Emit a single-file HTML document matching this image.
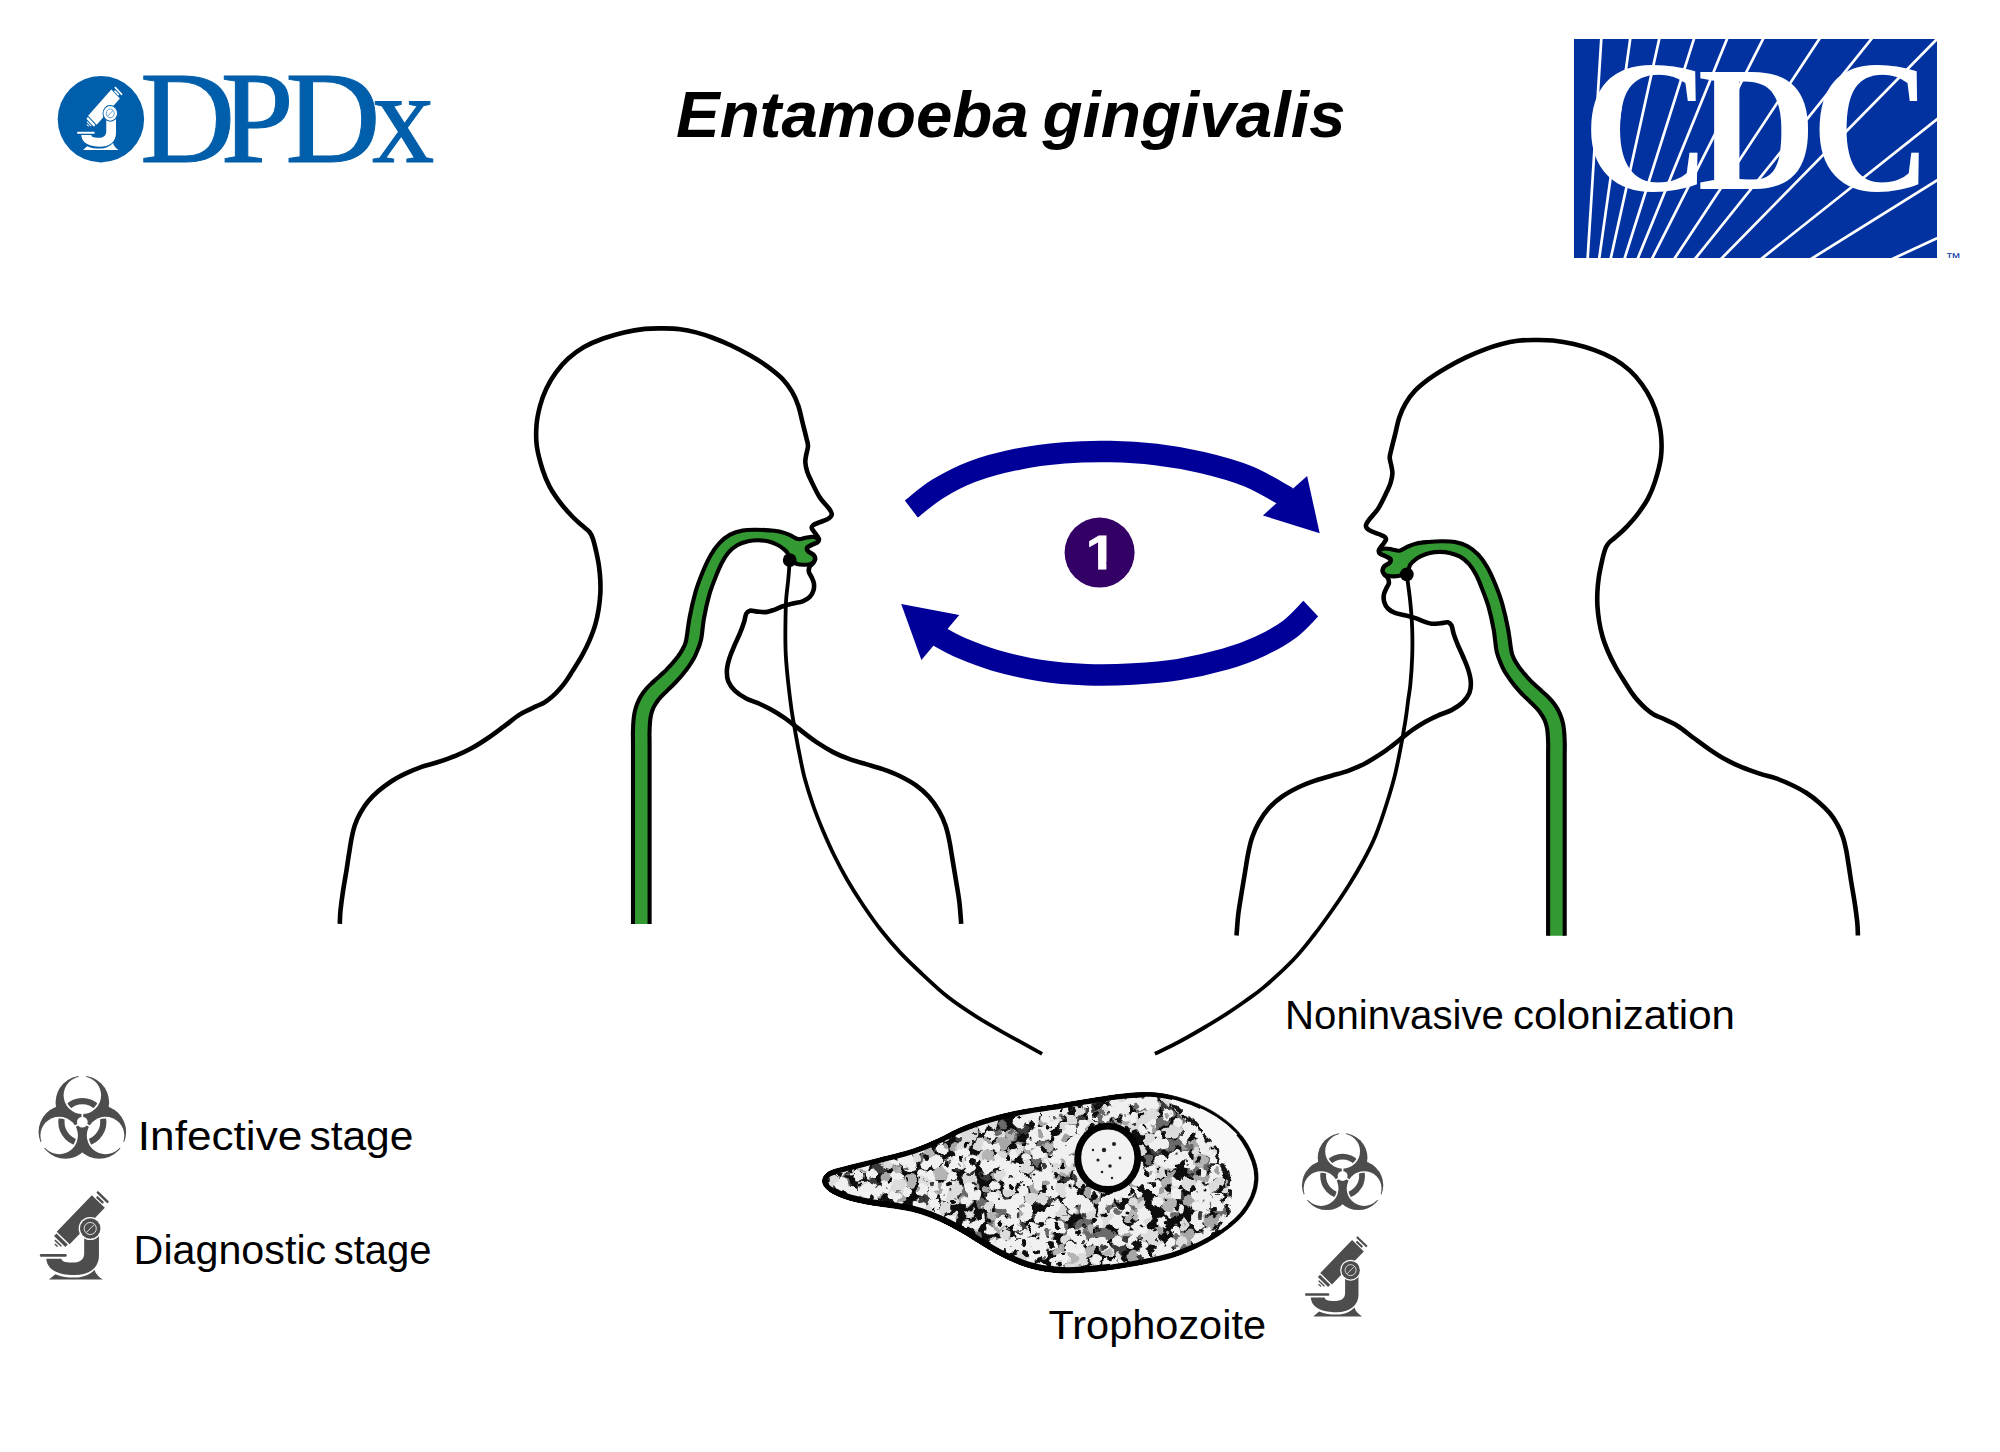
<!DOCTYPE html>
<html lang="en"><head><meta charset="utf-8"><title>Entamoeba gingivalis life cycle</title>
<style>html,body{margin:0;padding:0;background:#fff}body{width:2000px;height:1452px;overflow:hidden}svg{display:block}</style>
</head><body>
<svg width="2000" height="1452" viewBox="0 0 2000 1452">
<g id="figL"><path d="M633.0 924.1C633.0 917.1 633.0 898.0 633.0 882.4C633.0 866.7 633.0 846.6 633.0 830.0C633.0 813.4 633.0 796.7 633.0 782.5C633.0 768.3 633.0 753.2 633.0 745.0C633.0 736.8 632.9 735.9 632.9 733.5C632.9 731.1 632.9 732.3 633.0 730.5C633.1 728.7 633.1 725.4 633.3 722.9C633.5 720.3 633.7 717.6 634.1 715.1C634.5 712.6 635.0 710.3 635.7 708.0C636.4 705.7 637.2 703.5 638.2 701.4C639.1 699.2 640.3 697.0 641.7 694.9C643.0 692.9 644.5 690.9 646.1 689.0C647.7 687.1 649.6 685.3 651.3 683.6C653.1 681.9 654.9 680.4 656.6 678.8C658.3 677.3 659.9 675.8 661.5 674.4C663.1 672.9 664.7 671.6 666.2 670.1C667.7 668.6 669.1 667.0 670.5 665.5C671.9 663.9 673.3 662.2 674.6 660.7C675.8 659.2 676.9 657.8 678.0 656.4C679.0 654.9 679.9 653.7 680.9 652.1C681.9 650.5 683.0 648.7 683.9 646.7C684.8 644.6 685.2 644.9 686.2 640.0C687.2 635.1 688.1 625.4 689.6 617.5C691.1 609.6 693.3 599.9 695.4 592.4C697.5 584.9 699.9 578.8 702.4 572.7C704.9 566.6 707.6 560.6 710.4 555.7C713.2 550.8 716.1 546.6 719.4 543.1C722.7 539.6 726.2 536.7 730.1 534.6C734.0 532.5 738.4 531.2 742.7 530.4C747.0 529.6 751.6 529.7 756.1 529.7C760.6 529.7 765.3 530.0 769.5 530.4C773.7 530.8 777.8 531.1 781.2 531.9C784.6 532.7 787.3 533.9 790.1 535.1C792.9 536.3 795.7 538.7 798.2 539.1C800.8 539.5 803.0 538.2 805.4 537.8C807.8 537.4 810.3 536.8 812.5 536.9C814.7 537.0 817.8 538.4 818.8 538.7C818.6 539.3 818.7 541.2 817.5 542.2C816.3 543.2 813.3 544.0 811.6 544.9C809.9 545.8 807.8 546.5 807.2 547.6C806.6 548.7 807.1 550.0 808.1 551.2C809.1 552.4 812.2 553.5 813.4 554.8C814.6 556.1 815.2 557.5 815.2 558.8C815.2 560.1 813.7 562.1 813.4 562.8C812.8 563.0 811.4 563.9 809.8 564.2C808.2 564.5 805.8 564.9 803.6 564.8C801.4 564.7 798.7 564.5 796.4 563.7C794.1 562.9 790.8 560.7 789.7 560.1C789.3 558.9 788.6 554.9 787.5 553.0C786.4 551.1 784.8 549.9 783.0 548.5C781.2 547.1 779.2 545.7 776.7 544.5C774.2 543.3 770.9 542.0 767.8 541.3C764.7 540.6 761.2 540.3 757.9 540.3C754.6 540.3 751.5 540.5 748.1 541.3C744.7 542.1 740.8 543.2 737.6 545.0C734.4 546.8 731.5 549.2 728.8 552.2C726.1 555.2 723.8 559.0 721.6 563.2C719.4 567.4 717.7 571.9 715.6 577.2C713.5 582.5 711.1 588.4 709.2 595.1C707.3 601.8 705.5 610.0 704.1 617.5C702.7 625.0 702.3 634.1 701.0 640.0C699.7 645.9 697.7 649.7 696.4 652.9C695.2 656.2 694.4 657.3 693.3 659.3C692.2 661.3 691.1 662.9 689.9 664.7C688.8 666.5 687.6 668.1 686.2 669.9C684.9 671.6 683.5 673.5 682.0 675.3C680.5 677.1 678.8 679.0 677.2 680.7C675.6 682.5 673.9 684.1 672.3 685.7C670.6 687.3 669.0 688.8 667.4 690.4C665.8 691.9 664.1 693.5 662.7 695.0C661.2 696.5 659.8 697.9 658.7 699.4C657.5 700.9 656.6 702.3 655.7 703.8C654.8 705.3 653.9 706.8 653.2 708.2C652.6 709.7 652.1 711.1 651.6 712.7C651.2 714.3 650.8 715.8 650.5 717.7C650.2 719.6 650.0 721.8 649.9 724.0C649.7 726.2 649.6 729.5 649.6 731.1C649.5 732.7 649.5 731.2 649.5 733.5C649.5 735.8 649.6 736.8 649.6 745.0C649.6 753.2 649.6 768.3 649.6 782.5C649.6 796.7 649.6 813.4 649.6 830.0C649.6 846.6 649.6 866.7 649.6 882.4C649.6 898.0 649.6 917.1 649.6 924.1" fill="#339933" stroke="none"/><path d="M633.0 924.1C633.0 917.1 633.0 898.0 633.0 882.4C633.0 866.7 633.0 846.6 633.0 830.0C633.0 813.4 633.0 796.7 633.0 782.5C633.0 768.3 633.0 753.2 633.0 745.0C633.0 736.8 632.9 735.9 632.9 733.5C632.9 731.1 632.9 732.3 633.0 730.5C633.1 728.7 633.1 725.4 633.3 722.9C633.5 720.3 633.7 717.6 634.1 715.1C634.5 712.6 635.0 710.3 635.7 708.0C636.4 705.7 637.2 703.5 638.2 701.4C639.1 699.2 640.3 697.0 641.7 694.9C643.0 692.9 644.5 690.9 646.1 689.0C647.7 687.1 649.6 685.3 651.3 683.6C653.1 681.9 654.9 680.4 656.6 678.8C658.3 677.3 659.9 675.8 661.5 674.4C663.1 672.9 664.7 671.6 666.2 670.1C667.7 668.6 669.1 667.0 670.5 665.5C671.9 663.9 673.3 662.2 674.6 660.7C675.8 659.2 676.9 657.8 678.0 656.4C679.0 654.9 679.9 653.7 680.9 652.1C681.9 650.5 683.0 648.7 683.9 646.7C684.8 644.6 685.2 644.9 686.2 640.0C687.2 635.1 688.1 625.4 689.6 617.5C691.1 609.6 693.3 599.9 695.4 592.4C697.5 584.9 699.9 578.8 702.4 572.7C704.9 566.6 707.6 560.6 710.4 555.7C713.2 550.8 716.1 546.6 719.4 543.1C722.7 539.6 726.2 536.7 730.1 534.6C734.0 532.5 738.4 531.2 742.7 530.4C747.0 529.6 751.6 529.7 756.1 529.7C760.6 529.7 765.3 530.0 769.5 530.4C773.7 530.8 777.8 531.1 781.2 531.9C784.6 532.7 787.3 533.9 790.1 535.1C792.9 536.3 795.7 538.7 798.2 539.1C800.8 539.5 803.0 538.2 805.4 537.8C807.8 537.4 810.3 536.8 812.5 536.9C814.7 537.0 817.8 538.4 818.8 538.7" fill="none" stroke="#000" stroke-width="4.1" stroke-linejoin="round"/><path d="M813.4 562.8C812.8 563.0 811.4 563.9 809.8 564.2C808.2 564.5 805.8 564.9 803.6 564.8C801.4 564.7 798.7 564.5 796.4 563.7C794.1 562.9 790.8 560.7 789.7 560.1C789.3 558.9 788.6 554.9 787.5 553.0C786.4 551.1 784.8 549.9 783.0 548.5C781.2 547.1 779.2 545.7 776.7 544.5C774.2 543.3 770.9 542.0 767.8 541.3C764.7 540.6 761.2 540.3 757.9 540.3C754.6 540.3 751.5 540.5 748.1 541.3C744.7 542.1 740.8 543.2 737.6 545.0C734.4 546.8 731.5 549.2 728.8 552.2C726.1 555.2 723.8 559.0 721.6 563.2C719.4 567.4 717.7 571.9 715.6 577.2C713.5 582.5 711.1 588.4 709.2 595.1C707.3 601.8 705.5 610.0 704.1 617.5C702.7 625.0 702.3 634.1 701.0 640.0C699.7 645.9 697.7 649.7 696.4 652.9C695.2 656.2 694.4 657.3 693.3 659.3C692.2 661.3 691.1 662.9 689.9 664.7C688.8 666.5 687.6 668.1 686.2 669.9C684.9 671.6 683.5 673.5 682.0 675.3C680.5 677.1 678.8 679.0 677.2 680.7C675.6 682.5 673.9 684.1 672.3 685.7C670.6 687.3 669.0 688.8 667.4 690.4C665.8 691.9 664.1 693.5 662.7 695.0C661.2 696.5 659.8 697.9 658.7 699.4C657.5 700.9 656.6 702.3 655.7 703.8C654.8 705.3 653.9 706.8 653.2 708.2C652.6 709.7 652.1 711.1 651.6 712.7C651.2 714.3 650.8 715.8 650.5 717.7C650.2 719.6 650.0 721.8 649.9 724.0C649.7 726.2 649.6 729.5 649.6 731.1C649.5 732.7 649.5 731.2 649.5 733.5C649.5 735.8 649.6 736.8 649.6 745.0C649.6 753.2 649.6 768.3 649.6 782.5C649.6 796.7 649.6 813.4 649.6 830.0C649.6 846.6 649.6 866.7 649.6 882.4C649.6 898.0 649.6 917.1 649.6 924.1" fill="none" stroke="#000" stroke-width="4.1" stroke-linejoin="round"/><path d="M339.8 923.9C339.9 921.6 339.9 915.8 340.5 910.2C341.1 904.7 342.1 897.2 343.1 890.6C344.1 884.0 345.4 877.0 346.4 870.9C347.4 864.8 348.1 859.3 349.0 853.9C349.9 848.5 350.6 843.0 351.6 838.2C352.6 833.4 353.5 829.2 354.9 825.1C356.3 821.0 357.9 817.2 360.1 813.3C362.3 809.4 364.9 805.2 368.0 801.5C371.1 797.8 374.5 794.5 378.4 791.1C382.3 787.7 386.9 784.2 391.5 781.2C396.1 778.2 400.9 775.8 405.9 773.4C410.9 771.0 416.4 768.6 421.6 766.8C426.9 764.9 431.7 764.2 437.4 762.3C443.1 760.4 450.2 758.0 456.0 755.6C461.8 753.2 466.7 750.9 472.0 748.0C477.3 745.1 482.7 741.6 488.0 738.0C493.3 734.4 498.7 730.3 504.0 726.4C509.3 722.5 514.7 717.7 520.0 714.4C525.3 711.1 532.0 708.3 536.0 706.4C540.0 704.5 541.3 704.4 544.0 702.8C546.7 701.2 549.3 699.1 552.0 696.8C554.7 694.5 557.5 691.6 560.0 688.8C562.5 686.0 564.8 682.9 566.8 680.0C568.8 677.1 569.8 675.4 572.3 671.4C574.8 667.4 578.9 661.1 581.8 655.9C584.7 650.7 587.3 645.6 589.5 640.4C591.7 635.2 593.7 630.1 595.2 624.9C596.7 619.7 597.8 614.6 598.6 609.4C599.5 604.2 600.0 598.8 600.3 593.9C600.6 589.0 600.5 584.8 600.3 580.2C600.1 575.6 599.6 571.0 599.0 566.4C598.4 561.8 597.4 557.2 596.4 552.6C595.4 548.0 594.0 542.2 592.9 538.8C591.8 535.4 591.2 534.1 589.5 532.0C587.8 529.9 585.5 528.5 582.6 525.9C579.7 523.3 576.0 520.4 572.3 516.5C568.6 512.6 563.9 507.6 560.2 502.7C556.5 497.8 552.8 492.6 549.9 487.2C547.0 481.8 544.9 476.9 542.7 470.0C540.5 463.1 537.8 453.5 536.8 446.0C535.8 438.5 536.0 431.9 536.5 425.2C537.0 418.5 538.4 412.1 540.0 406.0C541.6 399.9 543.7 394.0 546.4 388.4C549.1 382.8 552.4 377.3 556.0 372.4C559.6 367.5 563.3 363.0 568.0 358.8C572.7 354.6 578.1 350.5 584.0 347.1C589.9 343.7 596.5 340.9 603.2 338.5C609.9 336.1 617.1 334.0 624.0 332.4C630.9 330.8 638.1 329.6 644.8 328.9C651.5 328.2 658.1 328.3 664.0 328.4C669.9 328.4 674.7 328.5 680.0 329.2C685.3 329.9 690.7 331.0 696.0 332.4C701.3 333.8 706.1 335.3 712.0 337.5C717.9 339.7 724.8 342.5 731.2 345.5C737.6 348.5 744.3 352.1 750.4 355.6C756.5 359.2 762.7 362.9 768.0 366.8C773.3 370.7 778.4 374.7 782.4 378.8C786.4 382.9 789.3 387.1 792.0 391.6C794.7 396.1 796.7 400.9 798.4 406.0C800.1 411.1 801.1 416.7 802.4 422.0C803.7 427.3 805.5 434.0 806.4 438.0C807.3 442.0 808.0 443.3 808.0 446.0C808.0 448.7 806.9 451.3 806.4 454.0C805.9 456.7 805.2 459.1 805.3 462.0C805.4 464.9 806.3 468.6 807.2 471.6C808.1 474.6 808.8 475.9 810.8 480.0C812.8 484.1 816.2 491.7 819.2 496.5C822.2 501.3 827.0 505.8 829.1 508.7C831.2 511.6 831.9 512.6 831.8 514.2C831.7 515.9 830.6 517.2 828.5 518.6C826.4 520.0 821.8 521.3 819.2 522.4C816.6 523.5 814.3 524.2 813.1 525.2C811.9 526.2 811.4 526.9 811.8 528.2C812.1 529.6 814.0 531.5 815.2 533.3C816.4 535.0 818.4 537.2 818.8 538.7C819.2 540.2 818.7 541.2 817.5 542.2C816.3 543.2 813.3 544.0 811.6 544.9C809.9 545.8 807.8 546.5 807.2 547.6C806.6 548.7 807.1 550.0 808.1 551.2C809.1 552.4 812.2 553.5 813.4 554.8C814.6 556.1 815.2 557.5 815.2 558.8C815.2 560.1 814.3 561.5 813.4 562.8C812.5 564.1 810.5 564.9 809.8 566.4C809.0 567.9 808.6 570.0 808.9 571.8C809.2 573.6 810.8 575.3 811.6 577.2C812.4 579.1 813.6 581.2 813.9 583.4C814.2 585.6 814.1 588.4 813.4 590.6C812.7 592.9 811.6 595.1 809.8 596.9C808.0 598.7 805.5 600.2 802.7 601.3C799.9 602.4 796.1 602.8 792.8 603.6C789.5 604.4 786.1 605.3 783.0 606.3C779.9 607.3 776.8 608.8 774.0 609.8C771.2 610.8 768.8 611.8 766.0 612.1C763.2 612.4 759.7 611.8 757.0 611.6C754.3 611.4 751.7 610.3 749.9 610.7C748.1 611.1 747.2 611.9 746.2 613.8C745.2 615.7 745.1 618.8 744.1 622.0C743.1 625.2 741.6 629.2 740.0 633.1C738.4 637.0 736.2 641.3 734.5 645.4C732.8 649.5 730.9 653.7 729.6 657.8C728.3 661.9 727.1 666.3 726.9 670.2C726.7 674.1 726.9 677.8 728.3 681.3C729.7 684.8 732.1 688.0 735.1 690.9C738.1 693.8 742.1 696.3 746.2 698.5C750.3 700.7 755.5 702.0 759.9 704.0C764.2 706.0 768.4 708.0 772.3 710.2C776.2 712.4 779.7 714.6 783.4 717.1C787.1 719.6 790.8 722.5 794.4 725.3C798.0 728.1 801.3 730.9 805.0 733.7C808.7 736.5 811.8 739.0 816.5 742.1C821.2 745.2 827.6 749.2 833.1 752.1C838.6 755.0 844.1 757.2 849.6 759.2C855.1 761.2 860.6 762.5 866.1 764.1C871.6 765.8 877.1 767.2 882.6 769.1C888.1 771.0 893.7 773.0 899.2 775.7C904.7 778.4 910.8 781.6 915.7 785.1C920.7 788.6 925.0 792.4 928.9 796.7C932.8 801.0 936.0 805.9 938.8 810.7C941.6 815.5 943.7 820.4 945.5 825.6C947.3 830.8 948.4 836.0 949.6 842.1C950.8 848.2 951.8 855.4 952.9 862.0C954.0 868.6 955.1 874.9 956.2 881.8C957.3 888.7 958.7 896.3 959.5 903.3C960.3 910.3 960.9 920.5 961.2 923.9" fill="none" stroke="#000" stroke-width="4.6" stroke-linejoin="round" stroke-linecap="butt"/><circle cx="789.7" cy="560.1" r="6.9" fill="#000"/></g>
<g transform="translate(2197.7,11.6) scale(-1,1)"><path d="M633.0 924.1C633.0 917.1 633.0 898.0 633.0 882.4C633.0 866.7 633.0 846.6 633.0 830.0C633.0 813.4 633.0 796.7 633.0 782.5C633.0 768.3 633.0 753.2 633.0 745.0C633.0 736.8 632.9 735.9 632.9 733.5C632.9 731.1 632.9 732.3 633.0 730.5C633.1 728.7 633.1 725.4 633.3 722.9C633.5 720.3 633.7 717.6 634.1 715.1C634.5 712.6 635.0 710.3 635.7 708.0C636.4 705.7 637.2 703.5 638.2 701.4C639.1 699.2 640.3 697.0 641.7 694.9C643.0 692.9 644.5 690.9 646.1 689.0C647.7 687.1 649.6 685.3 651.3 683.6C653.1 681.9 654.9 680.4 656.6 678.8C658.3 677.3 659.9 675.8 661.5 674.4C663.1 672.9 664.7 671.6 666.2 670.1C667.7 668.6 669.1 667.0 670.5 665.5C671.9 663.9 673.3 662.2 674.6 660.7C675.8 659.2 676.9 657.8 678.0 656.4C679.0 654.9 679.9 653.7 680.9 652.1C681.9 650.5 683.0 648.7 683.9 646.7C684.8 644.6 685.2 644.9 686.2 640.0C687.2 635.1 688.1 625.4 689.6 617.5C691.1 609.6 693.3 599.9 695.4 592.4C697.5 584.9 699.9 578.8 702.4 572.7C704.9 566.6 707.6 560.6 710.4 555.7C713.2 550.8 716.1 546.6 719.4 543.1C722.7 539.6 726.2 536.7 730.1 534.6C734.0 532.5 738.4 531.2 742.7 530.4C747.0 529.6 751.6 529.7 756.1 529.7C760.6 529.7 765.3 530.0 769.5 530.4C773.7 530.8 777.8 531.1 781.2 531.9C784.6 532.7 787.3 533.9 790.1 535.1C792.9 536.3 795.7 538.7 798.2 539.1C800.8 539.5 803.0 538.2 805.4 537.8C807.8 537.4 810.3 536.8 812.5 536.9C814.7 537.0 817.8 538.4 818.8 538.7C818.6 539.3 818.7 541.2 817.5 542.2C816.3 543.2 813.3 544.0 811.6 544.9C809.9 545.8 807.8 546.5 807.2 547.6C806.6 548.7 807.1 550.0 808.1 551.2C809.1 552.4 812.2 553.5 813.4 554.8C814.6 556.1 815.2 557.5 815.2 558.8C815.2 560.1 813.7 562.1 813.4 562.8C812.8 563.0 811.4 563.9 809.8 564.2C808.2 564.5 805.8 564.9 803.6 564.8C801.4 564.7 798.7 564.5 796.4 563.7C794.1 562.9 790.8 560.7 789.7 560.1C789.3 558.9 788.6 554.9 787.5 553.0C786.4 551.1 784.8 549.9 783.0 548.5C781.2 547.1 779.2 545.7 776.7 544.5C774.2 543.3 770.9 542.0 767.8 541.3C764.7 540.6 761.2 540.3 757.9 540.3C754.6 540.3 751.5 540.5 748.1 541.3C744.7 542.1 740.8 543.2 737.6 545.0C734.4 546.8 731.5 549.2 728.8 552.2C726.1 555.2 723.8 559.0 721.6 563.2C719.4 567.4 717.7 571.9 715.6 577.2C713.5 582.5 711.1 588.4 709.2 595.1C707.3 601.8 705.5 610.0 704.1 617.5C702.7 625.0 702.3 634.1 701.0 640.0C699.7 645.9 697.7 649.7 696.4 652.9C695.2 656.2 694.4 657.3 693.3 659.3C692.2 661.3 691.1 662.9 689.9 664.7C688.8 666.5 687.6 668.1 686.2 669.9C684.9 671.6 683.5 673.5 682.0 675.3C680.5 677.1 678.8 679.0 677.2 680.7C675.6 682.5 673.9 684.1 672.3 685.7C670.6 687.3 669.0 688.8 667.4 690.4C665.8 691.9 664.1 693.5 662.7 695.0C661.2 696.5 659.8 697.9 658.7 699.4C657.5 700.9 656.6 702.3 655.7 703.8C654.8 705.3 653.9 706.8 653.2 708.2C652.6 709.7 652.1 711.1 651.6 712.7C651.2 714.3 650.8 715.8 650.5 717.7C650.2 719.6 650.0 721.8 649.9 724.0C649.7 726.2 649.6 729.5 649.6 731.1C649.5 732.7 649.5 731.2 649.5 733.5C649.5 735.8 649.6 736.8 649.6 745.0C649.6 753.2 649.6 768.3 649.6 782.5C649.6 796.7 649.6 813.4 649.6 830.0C649.6 846.6 649.6 866.7 649.6 882.4C649.6 898.0 649.6 917.1 649.6 924.1" fill="#339933" stroke="none"/><path d="M633.0 924.1C633.0 917.1 633.0 898.0 633.0 882.4C633.0 866.7 633.0 846.6 633.0 830.0C633.0 813.4 633.0 796.7 633.0 782.5C633.0 768.3 633.0 753.2 633.0 745.0C633.0 736.8 632.9 735.9 632.9 733.5C632.9 731.1 632.9 732.3 633.0 730.5C633.1 728.7 633.1 725.4 633.3 722.9C633.5 720.3 633.7 717.6 634.1 715.1C634.5 712.6 635.0 710.3 635.7 708.0C636.4 705.7 637.2 703.5 638.2 701.4C639.1 699.2 640.3 697.0 641.7 694.9C643.0 692.9 644.5 690.9 646.1 689.0C647.7 687.1 649.6 685.3 651.3 683.6C653.1 681.9 654.9 680.4 656.6 678.8C658.3 677.3 659.9 675.8 661.5 674.4C663.1 672.9 664.7 671.6 666.2 670.1C667.7 668.6 669.1 667.0 670.5 665.5C671.9 663.9 673.3 662.2 674.6 660.7C675.8 659.2 676.9 657.8 678.0 656.4C679.0 654.9 679.9 653.7 680.9 652.1C681.9 650.5 683.0 648.7 683.9 646.7C684.8 644.6 685.2 644.9 686.2 640.0C687.2 635.1 688.1 625.4 689.6 617.5C691.1 609.6 693.3 599.9 695.4 592.4C697.5 584.9 699.9 578.8 702.4 572.7C704.9 566.6 707.6 560.6 710.4 555.7C713.2 550.8 716.1 546.6 719.4 543.1C722.7 539.6 726.2 536.7 730.1 534.6C734.0 532.5 738.4 531.2 742.7 530.4C747.0 529.6 751.6 529.7 756.1 529.7C760.6 529.7 765.3 530.0 769.5 530.4C773.7 530.8 777.8 531.1 781.2 531.9C784.6 532.7 787.3 533.9 790.1 535.1C792.9 536.3 795.7 538.7 798.2 539.1C800.8 539.5 803.0 538.2 805.4 537.8C807.8 537.4 810.3 536.8 812.5 536.9C814.7 537.0 817.8 538.4 818.8 538.7" fill="none" stroke="#000" stroke-width="4.1" stroke-linejoin="round"/><path d="M813.4 562.8C812.8 563.0 811.4 563.9 809.8 564.2C808.2 564.5 805.8 564.9 803.6 564.8C801.4 564.7 798.7 564.5 796.4 563.7C794.1 562.9 790.8 560.7 789.7 560.1C789.3 558.9 788.6 554.9 787.5 553.0C786.4 551.1 784.8 549.9 783.0 548.5C781.2 547.1 779.2 545.7 776.7 544.5C774.2 543.3 770.9 542.0 767.8 541.3C764.7 540.6 761.2 540.3 757.9 540.3C754.6 540.3 751.5 540.5 748.1 541.3C744.7 542.1 740.8 543.2 737.6 545.0C734.4 546.8 731.5 549.2 728.8 552.2C726.1 555.2 723.8 559.0 721.6 563.2C719.4 567.4 717.7 571.9 715.6 577.2C713.5 582.5 711.1 588.4 709.2 595.1C707.3 601.8 705.5 610.0 704.1 617.5C702.7 625.0 702.3 634.1 701.0 640.0C699.7 645.9 697.7 649.7 696.4 652.9C695.2 656.2 694.4 657.3 693.3 659.3C692.2 661.3 691.1 662.9 689.9 664.7C688.8 666.5 687.6 668.1 686.2 669.9C684.9 671.6 683.5 673.5 682.0 675.3C680.5 677.1 678.8 679.0 677.2 680.7C675.6 682.5 673.9 684.1 672.3 685.7C670.6 687.3 669.0 688.8 667.4 690.4C665.8 691.9 664.1 693.5 662.7 695.0C661.2 696.5 659.8 697.9 658.7 699.4C657.5 700.9 656.6 702.3 655.7 703.8C654.8 705.3 653.9 706.8 653.2 708.2C652.6 709.7 652.1 711.1 651.6 712.7C651.2 714.3 650.8 715.8 650.5 717.7C650.2 719.6 650.0 721.8 649.9 724.0C649.7 726.2 649.6 729.5 649.6 731.1C649.5 732.7 649.5 731.2 649.5 733.5C649.5 735.8 649.6 736.8 649.6 745.0C649.6 753.2 649.6 768.3 649.6 782.5C649.6 796.7 649.6 813.4 649.6 830.0C649.6 846.6 649.6 866.7 649.6 882.4C649.6 898.0 649.6 917.1 649.6 924.1" fill="none" stroke="#000" stroke-width="4.1" stroke-linejoin="round"/><path d="M339.8 923.9C339.9 921.6 339.9 915.8 340.5 910.2C341.1 904.7 342.1 897.2 343.1 890.6C344.1 884.0 345.4 877.0 346.4 870.9C347.4 864.8 348.1 859.3 349.0 853.9C349.9 848.5 350.6 843.0 351.6 838.2C352.6 833.4 353.5 829.2 354.9 825.1C356.3 821.0 357.9 817.2 360.1 813.3C362.3 809.4 364.9 805.2 368.0 801.5C371.1 797.8 374.5 794.5 378.4 791.1C382.3 787.7 386.9 784.2 391.5 781.2C396.1 778.2 400.9 775.8 405.9 773.4C410.9 771.0 416.4 768.6 421.6 766.8C426.9 764.9 431.7 764.2 437.4 762.3C443.1 760.4 450.2 758.0 456.0 755.6C461.8 753.2 466.7 750.9 472.0 748.0C477.3 745.1 482.7 741.6 488.0 738.0C493.3 734.4 498.7 730.3 504.0 726.4C509.3 722.5 514.7 717.7 520.0 714.4C525.3 711.1 532.0 708.3 536.0 706.4C540.0 704.5 541.3 704.4 544.0 702.8C546.7 701.2 549.3 699.1 552.0 696.8C554.7 694.5 557.5 691.6 560.0 688.8C562.5 686.0 564.8 682.9 566.8 680.0C568.8 677.1 569.8 675.4 572.3 671.4C574.8 667.4 578.9 661.1 581.8 655.9C584.7 650.7 587.3 645.6 589.5 640.4C591.7 635.2 593.7 630.1 595.2 624.9C596.7 619.7 597.8 614.6 598.6 609.4C599.5 604.2 600.0 598.8 600.3 593.9C600.6 589.0 600.5 584.8 600.3 580.2C600.1 575.6 599.6 571.0 599.0 566.4C598.4 561.8 597.4 557.2 596.4 552.6C595.4 548.0 594.0 542.2 592.9 538.8C591.8 535.4 591.2 534.1 589.5 532.0C587.8 529.9 585.5 528.5 582.6 525.9C579.7 523.3 576.0 520.4 572.3 516.5C568.6 512.6 563.9 507.6 560.2 502.7C556.5 497.8 552.8 492.6 549.9 487.2C547.0 481.8 544.9 476.9 542.7 470.0C540.5 463.1 537.8 453.5 536.8 446.0C535.8 438.5 536.0 431.9 536.5 425.2C537.0 418.5 538.4 412.1 540.0 406.0C541.6 399.9 543.7 394.0 546.4 388.4C549.1 382.8 552.4 377.3 556.0 372.4C559.6 367.5 563.3 363.0 568.0 358.8C572.7 354.6 578.1 350.5 584.0 347.1C589.9 343.7 596.5 340.9 603.2 338.5C609.9 336.1 617.1 334.0 624.0 332.4C630.9 330.8 638.1 329.6 644.8 328.9C651.5 328.2 658.1 328.3 664.0 328.4C669.9 328.4 674.7 328.5 680.0 329.2C685.3 329.9 690.7 331.0 696.0 332.4C701.3 333.8 706.1 335.3 712.0 337.5C717.9 339.7 724.8 342.5 731.2 345.5C737.6 348.5 744.3 352.1 750.4 355.6C756.5 359.2 762.7 362.9 768.0 366.8C773.3 370.7 778.4 374.7 782.4 378.8C786.4 382.9 789.3 387.1 792.0 391.6C794.7 396.1 796.7 400.9 798.4 406.0C800.1 411.1 801.1 416.7 802.4 422.0C803.7 427.3 805.5 434.0 806.4 438.0C807.3 442.0 808.0 443.3 808.0 446.0C808.0 448.7 806.9 451.3 806.4 454.0C805.9 456.7 805.2 459.1 805.3 462.0C805.4 464.9 806.3 468.6 807.2 471.6C808.1 474.6 808.8 475.9 810.8 480.0C812.8 484.1 816.2 491.7 819.2 496.5C822.2 501.3 827.0 505.8 829.1 508.7C831.2 511.6 831.9 512.6 831.8 514.2C831.7 515.9 830.6 517.2 828.5 518.6C826.4 520.0 821.8 521.3 819.2 522.4C816.6 523.5 814.3 524.2 813.1 525.2C811.9 526.2 811.4 526.9 811.8 528.2C812.1 529.6 814.0 531.5 815.2 533.3C816.4 535.0 818.4 537.2 818.8 538.7C819.2 540.2 818.7 541.2 817.5 542.2C816.3 543.2 813.3 544.0 811.6 544.9C809.9 545.8 807.8 546.5 807.2 547.6C806.6 548.7 807.1 550.0 808.1 551.2C809.1 552.4 812.2 553.5 813.4 554.8C814.6 556.1 815.2 557.5 815.2 558.8C815.2 560.1 814.3 561.5 813.4 562.8C812.5 564.1 810.5 564.9 809.8 566.4C809.0 567.9 808.6 570.0 808.9 571.8C809.2 573.6 810.8 575.3 811.6 577.2C812.4 579.1 813.6 581.2 813.9 583.4C814.2 585.6 814.1 588.4 813.4 590.6C812.7 592.9 811.6 595.1 809.8 596.9C808.0 598.7 805.5 600.2 802.7 601.3C799.9 602.4 796.1 602.8 792.8 603.6C789.5 604.4 786.1 605.3 783.0 606.3C779.9 607.3 776.8 608.8 774.0 609.8C771.2 610.8 768.8 611.8 766.0 612.1C763.2 612.4 759.7 611.8 757.0 611.6C754.3 611.4 751.7 610.3 749.9 610.7C748.1 611.1 747.2 611.9 746.2 613.8C745.2 615.7 745.1 618.8 744.1 622.0C743.1 625.2 741.6 629.2 740.0 633.1C738.4 637.0 736.2 641.3 734.5 645.4C732.8 649.5 730.9 653.7 729.6 657.8C728.3 661.9 727.1 666.3 726.9 670.2C726.7 674.1 726.9 677.8 728.3 681.3C729.7 684.8 732.1 688.0 735.1 690.9C738.1 693.8 742.1 696.3 746.2 698.5C750.3 700.7 755.5 702.0 759.9 704.0C764.2 706.0 768.4 708.0 772.3 710.2C776.2 712.4 779.7 714.6 783.4 717.1C787.1 719.6 790.8 722.5 794.4 725.3C798.0 728.1 801.3 730.9 805.0 733.7C808.7 736.5 811.8 739.0 816.5 742.1C821.2 745.2 827.6 749.2 833.1 752.1C838.6 755.0 844.1 757.2 849.6 759.2C855.1 761.2 860.6 762.5 866.1 764.1C871.6 765.8 877.1 767.2 882.6 769.1C888.1 771.0 893.7 773.0 899.2 775.7C904.7 778.4 910.8 781.6 915.7 785.1C920.7 788.6 925.0 792.4 928.9 796.7C932.8 801.0 936.0 805.9 938.8 810.7C941.6 815.5 943.7 820.4 945.5 825.6C947.3 830.8 948.4 836.0 949.6 842.1C950.8 848.2 951.8 855.4 952.9 862.0C954.0 868.6 955.1 874.9 956.2 881.8C957.3 888.7 958.7 896.3 959.5 903.3C960.3 910.3 960.9 920.5 961.2 923.9" fill="none" stroke="#000" stroke-width="4.6" stroke-linejoin="round" stroke-linecap="butt"/></g>
<circle cx="1406.8" cy="574.3" r="6.9" fill="#000"/>
<path d="M789.7 560.1C789.5 563.3 788.9 572.6 788.3 579.2C787.7 585.9 786.6 592.0 786.1 600.0C785.6 608.0 785.5 618.3 785.4 627.5C785.3 636.7 785.3 645.9 785.8 655.1C786.3 664.3 787.2 673.4 788.2 682.6C789.2 691.8 790.5 702.2 791.6 710.2C792.8 718.2 793.8 723.5 795.1 730.8C796.4 738.1 797.9 746.3 799.5 754.2C801.1 762.1 802.4 769.5 804.6 778.0C806.9 786.5 810.0 796.3 813.0 805.0C816.0 813.7 819.2 821.7 822.7 830.0C826.2 838.3 829.9 846.7 834.0 855.0C838.1 863.3 842.5 871.7 847.3 880.0C852.1 888.3 857.4 896.7 863.0 905.0C868.6 913.3 874.7 922.1 880.9 930.0C887.1 937.9 893.5 945.4 900.0 952.4C906.5 959.4 912.0 964.5 920.0 972.0C928.0 979.5 938.7 989.7 948.0 997.1C957.3 1004.5 966.7 1010.5 976.0 1016.4C985.3 1022.3 993.0 1026.6 1004.0 1032.8C1015.0 1039.0 1035.8 1050.3 1042.1 1053.8" fill="none" stroke="#000" stroke-width="3.8"/>
<path d="M1406.7 574.3C1407.3 578.8 1409.3 592.2 1410.2 601.3C1411.1 610.4 1411.9 619.7 1412.2 628.9C1412.5 638.1 1412.5 647.2 1412.2 656.4C1411.9 665.6 1411.1 676.7 1410.4 684.0C1409.7 691.3 1409.0 693.9 1408.2 700.0C1407.4 706.1 1406.6 713.4 1405.4 720.7C1404.2 728.1 1403.0 735.2 1401.3 744.1C1399.6 753.0 1397.5 764.5 1395.1 774.4C1392.7 784.3 1390.0 793.2 1386.8 803.3C1383.6 813.4 1379.6 825.5 1375.8 835.0C1372.0 844.5 1368.2 851.7 1363.7 860.0C1359.2 868.3 1354.2 876.7 1349.0 885.0C1343.8 893.3 1338.1 901.7 1332.3 910.0C1326.5 918.3 1320.5 926.7 1314.0 935.0C1307.5 943.3 1301.5 951.3 1293.1 960.0C1284.7 968.7 1271.7 980.5 1263.6 987.4C1255.5 994.3 1251.0 997.0 1244.7 1001.5C1238.4 1006.0 1232.2 1010.2 1225.8 1014.4C1219.3 1018.6 1212.3 1022.7 1206.0 1026.5C1199.7 1030.3 1193.6 1033.8 1187.9 1037.0C1182.2 1040.2 1177.5 1042.7 1172.0 1045.5C1166.5 1048.3 1157.8 1052.4 1154.9 1053.8" fill="none" stroke="#000" stroke-width="3.8"/>
<path d="M911.3 509.0C915.7 505.7 927.4 495.2 937.5 489.0C947.6 482.8 958.6 476.7 972.0 471.7C985.4 466.7 1002.7 462.2 1018.0 459.1C1033.3 456.0 1048.7 454.2 1064.0 452.9C1079.3 451.6 1094.7 451.2 1110.0 451.5C1125.3 451.8 1140.7 452.7 1156.0 454.5C1171.3 456.3 1186.7 458.9 1202.0 462.5C1217.3 466.1 1233.7 470.5 1248.0 476.3C1262.3 482.1 1281.3 494.0 1288.0 497.5" fill="none" stroke="#000099" stroke-width="21.5"/>
<path d="M1319.7 533.2L1307.1 475.9L1262.9 515.4Z" fill="#000099"/>
<path d="M1310.8 608.6C1307.2 612.0 1298.0 623.0 1289.4 629.3C1280.9 635.6 1270.2 641.5 1259.5 646.5C1248.8 651.5 1238.4 655.4 1225.0 659.2C1211.6 663.0 1194.3 667.0 1179.0 669.5C1163.7 672.0 1148.3 673.2 1133.0 674.1C1117.7 675.0 1102.3 675.4 1087.0 674.8C1071.7 674.2 1056.3 673.1 1041.0 670.7C1025.7 668.3 1008.4 664.1 995.0 660.3C981.6 656.5 970.2 651.8 960.5 647.7C950.8 643.6 940.9 637.5 937.0 635.5" fill="none" stroke="#000099" stroke-width="21.5"/>
<path d="M901.2 604L959.3 615L921.4 659.9Z" fill="#000099"/>
<circle cx="1099.6" cy="552.6" r="35" fill="#330066"/>
<text transform="translate(1085.96,568.7) scale(1.1,1)" font-family="'Liberation Sans',sans-serif" font-weight="bold" font-size="49" fill="#fff" stroke="#fff" stroke-width="0.8">1</text>
<rect x="1087" y="562.4" width="11.1" height="8.5" fill="#330066"/><rect x="1106.4" y="562.4" width="10.5" height="8.5" fill="#330066"/>
<text y="136.7" font-family="'Liberation Sans',sans-serif" font-size="64.5" font-weight="bold" font-style="italic" fill="#000"><tspan x="676.0" textLength="352.7" lengthAdjust="spacingAndGlyphs">Entamoeba</tspan> <tspan x="1042.4" textLength="303.1" lengthAdjust="spacingAndGlyphs">gingivalis</tspan></text>
<text y="1029.3" font-family="'Liberation Sans',sans-serif" font-size="41.0" font-weight="normal" font-style="normal" fill="#000"><tspan x="1285.1" textLength="218.8" lengthAdjust="spacingAndGlyphs">Noninvasive</tspan> <tspan x="1512.9" textLength="222.1" lengthAdjust="spacingAndGlyphs">colonization</tspan></text>
<text y="1149.5" font-family="'Liberation Sans',sans-serif" font-size="41.0" font-weight="normal" font-style="normal" fill="#000"><tspan x="137.8" textLength="164.5" lengthAdjust="spacingAndGlyphs">Infective</tspan> <tspan x="309.4" textLength="104.0" lengthAdjust="spacingAndGlyphs">stage</tspan></text>
<text y="1263.5" font-family="'Liberation Sans',sans-serif" font-size="41.0" font-weight="normal" font-style="normal" fill="#000"><tspan x="133.6" textLength="192.6" lengthAdjust="spacingAndGlyphs">Diagnostic</tspan> <tspan x="333.7" textLength="97.8" lengthAdjust="spacingAndGlyphs">stage</tspan></text>
<text y="1339.1" font-family="'Liberation Sans',sans-serif" font-size="41.0" font-weight="normal" font-style="normal" fill="#000"><tspan x="1048.5" textLength="217.5" lengthAdjust="spacingAndGlyphs">Trophozoite</tspan></text>
<circle cx="100.9" cy="119.2" r="43.2" fill="#005eaa"/>
<text y="162.4" font-family="'Liberation Serif',serif" font-size="131.9" fill="#005eaa" stroke="#005eaa" stroke-width="1"><tspan x="140.1 220.4 285.2">DPD</tspan><tspan x="372" textLength="62.3" lengthAdjust="spacingAndGlyphs">x</tspan></text>
<rect x="1574" y="39" width="363" height="219" fill="#0232a0"/>
<clipPath id="cdcclip"><rect x="1574" y="39" width="363" height="219"/></clipPath>
<path d="M1578.6 404.0L1608.1 -70.5M1578.6 404.0L1645.7 -70.5M1578.6 404.0L1683.4 -70.5M1578.6 404.0L1728.5 -70.5M1578.6 404.0L1771.5 -70.5M1578.6 404.0L1818.4 -70.5M1578.6 404.0L1891.5 -70.5M1578.6 404.0L1959.2 -70.5M1578.6 404.0L2044.5 -70.5M1578.6 404.0L2044.5 33.9M1578.6 404.0L2044.5 113.3M1578.6 404.0L2044.5 188.6" stroke="#fff" stroke-width="2.7" fill="none" clip-path="url(#cdcclip)"/>
<text font-family="'Liberation Serif',serif" font-weight="bold" fill="#fff"><tspan x="1582.5" y="189.9" font-size="187.6" textLength="128.5" lengthAdjust="spacingAndGlyphs">C</tspan><tspan x="1697.5" y="189.1" font-size="177.7" textLength="118.55" lengthAdjust="spacingAndGlyphs">D</tspan><tspan x="1811.5" y="189.7" font-size="187.6" textLength="119.9" lengthAdjust="spacingAndGlyphs">C</tspan></text>
<text x="1945.6" y="262.3" font-family="'Liberation Sans',sans-serif" font-size="12.5" font-weight="normal" font-style="normal" fill="#0232a0" textLength="15.6" lengthAdjust="spacingAndGlyphs">™</text>
<g transform="translate(82.35,1122.10) scale(1.7850)"><mask id="b1m" maskUnits="userSpaceOnUse" x="-30" y="-30" width="60" height="60"><rect x="-30" y="-30" width="60" height="60" fill="#000"/><circle cx="0.000" cy="-11.000" r="15" fill="#fff"/><circle cx="9.526" cy="5.500" r="15" fill="#fff"/><circle cx="-9.526" cy="5.500" r="15" fill="#fff"/><circle cx="0.000" cy="-15.000" r="10.5" fill="#000"/><circle cx="12.990" cy="7.500" r="10.5" fill="#000"/><circle cx="-12.990" cy="7.500" r="10.5" fill="#000"/><circle cx="0" cy="0" r="3" fill="#000"/><rect x="-2" y="-30" width="4" height="10" fill="#000" transform="rotate(0)"/><rect x="-0.5" y="-5.5" width="1" height="5.5" fill="#000" transform="rotate(0)"/><rect x="-2" y="-30" width="4" height="10" fill="#000" transform="rotate(120)"/><rect x="-0.5" y="-5.5" width="1" height="5.5" fill="#000" transform="rotate(120)"/><rect x="-2" y="-30" width="4" height="10" fill="#000" transform="rotate(240)"/><rect x="-0.5" y="-5.5" width="1" height="5.5" fill="#000" transform="rotate(240)"/></mask><rect x="-30" y="-30" width="60" height="60" fill="#4d4d4d" mask="url(#b1m)"/><clipPath id="b1c"><circle cx="0.000" cy="-15.000" r="9.5"/><circle cx="12.990" cy="7.500" r="9.5"/><circle cx="-12.990" cy="7.500" r="9.5"/></clipPath><circle cx="0" cy="0" r="11.75" fill="none" stroke="#4d4d4d" stroke-width="3.5" clip-path="url(#b1c)"/></g>
<g transform="translate(1342.60,1176.10) scale(1.6580)"><mask id="b2m" maskUnits="userSpaceOnUse" x="-30" y="-30" width="60" height="60"><rect x="-30" y="-30" width="60" height="60" fill="#000"/><circle cx="0.000" cy="-11.000" r="15" fill="#fff"/><circle cx="9.526" cy="5.500" r="15" fill="#fff"/><circle cx="-9.526" cy="5.500" r="15" fill="#fff"/><circle cx="0.000" cy="-15.000" r="10.5" fill="#000"/><circle cx="12.990" cy="7.500" r="10.5" fill="#000"/><circle cx="-12.990" cy="7.500" r="10.5" fill="#000"/><circle cx="0" cy="0" r="3" fill="#000"/><rect x="-2" y="-30" width="4" height="10" fill="#000" transform="rotate(0)"/><rect x="-0.5" y="-5.5" width="1" height="5.5" fill="#000" transform="rotate(0)"/><rect x="-2" y="-30" width="4" height="10" fill="#000" transform="rotate(120)"/><rect x="-0.5" y="-5.5" width="1" height="5.5" fill="#000" transform="rotate(120)"/><rect x="-2" y="-30" width="4" height="10" fill="#000" transform="rotate(240)"/><rect x="-0.5" y="-5.5" width="1" height="5.5" fill="#000" transform="rotate(240)"/></mask><rect x="-30" y="-30" width="60" height="60" fill="#4d4d4d" mask="url(#b2m)"/><clipPath id="b2c"><circle cx="0.000" cy="-15.000" r="9.5"/><circle cx="12.990" cy="7.500" r="9.5"/><circle cx="-12.990" cy="7.500" r="9.5"/></clipPath><circle cx="0" cy="0" r="11.75" fill="none" stroke="#4d4d4d" stroke-width="3.5" clip-path="url(#b2c)"/></g>
<g transform="translate(30.00,1180.00) scale(0.07576)"><g transform="translate(670,525) rotate(-46)"><rect x="-334" y="-119" width="668" height="238" fill="#4d4d4d"/><rect x="350" y="-60" width="30" height="120" rx="7" fill="#4d4d4d"/><rect x="400" y="-104" width="32" height="208" rx="14" fill="#4d4d4d"/><rect x="-400" y="-104" width="46" height="208" fill="#4d4d4d"/><rect x="-440" y="-60" width="20" height="120" rx="6" fill="#4d4d4d"/><rect x="-476" y="-26" width="18" height="52" rx="6" fill="#4d4d4d"/></g><path d="M715 700L910 700L910 1000C910 1160 780 1255 590 1255C400 1255 225 1200 215 1040L415 1040C425 1075 450 1090 560 1090C650 1090 715 1060 715 970Z" fill="#4d4d4d"/><circle cx="795" cy="640" r="153" fill="#fff"/><circle cx="795" cy="640" r="135" fill="#4d4d4d"/><circle cx="795" cy="640" r="80" fill="none" stroke="#fff" stroke-width="11"/><path d="M745 692L848 588" stroke="#fff" stroke-width="11"/><rect x="130" y="978" width="355" height="36" rx="18" fill="#4d4d4d"/><path d="M250 1315L335 1243C430 1285 520 1290 600 1288C700 1285 790 1250 852 1185C865 1235 900 1275 962 1315Z" fill="#4d4d4d"/></g>
<g transform="translate(1296.09,1226.26) scale(0.06856)"><g transform="translate(670,525) rotate(-46)"><rect x="-334" y="-119" width="668" height="238" fill="#4d4d4d"/><rect x="350" y="-60" width="30" height="120" rx="7" fill="#4d4d4d"/><rect x="400" y="-104" width="32" height="208" rx="14" fill="#4d4d4d"/><rect x="-400" y="-104" width="46" height="208" fill="#4d4d4d"/><rect x="-440" y="-60" width="20" height="120" rx="6" fill="#4d4d4d"/><rect x="-476" y="-26" width="18" height="52" rx="6" fill="#4d4d4d"/></g><path d="M715 700L910 700L910 1000C910 1160 780 1255 590 1255C400 1255 225 1200 215 1040L415 1040C425 1075 450 1090 560 1090C650 1090 715 1060 715 970Z" fill="#4d4d4d"/><circle cx="795" cy="640" r="153" fill="#fff"/><circle cx="795" cy="640" r="135" fill="#4d4d4d"/><circle cx="795" cy="640" r="80" fill="none" stroke="#fff" stroke-width="11"/><path d="M745 692L848 588" stroke="#fff" stroke-width="11"/><rect x="130" y="978" width="355" height="36" rx="18" fill="#4d4d4d"/><path d="M250 1315L335 1243C430 1285 520 1290 600 1288C700 1285 790 1250 852 1185C865 1235 900 1275 962 1315Z" fill="#4d4d4d"/></g>
<g transform="translate(70.50,78.62) scale(0.66,0.717)"><g transform="translate(0.00,0.00) scale(0.07576)"><g transform="translate(670,525) rotate(-46)"><rect x="-334" y="-119" width="668" height="238" fill="#fff"/><rect x="350" y="-60" width="30" height="120" rx="7" fill="#fff"/><rect x="400" y="-104" width="32" height="208" rx="14" fill="#fff"/><rect x="-400" y="-104" width="46" height="208" fill="#fff"/><rect x="-440" y="-60" width="20" height="120" rx="6" fill="#fff"/><rect x="-476" y="-26" width="18" height="52" rx="6" fill="#fff"/></g><path d="M715 700L910 700L910 1000C910 1160 780 1255 590 1255C400 1255 225 1200 215 1040L415 1040C425 1075 450 1090 560 1090C650 1090 715 1060 715 970Z" fill="#fff"/><circle cx="795" cy="640" r="153" fill="#005eaa"/><circle cx="795" cy="640" r="135" fill="#fff"/><circle cx="795" cy="640" r="80" fill="none" stroke="#005eaa" stroke-width="11"/><path d="M745 692L848 588" stroke="#005eaa" stroke-width="11"/><rect x="130" y="978" width="355" height="36" rx="18" fill="#fff"/><path d="M250 1315L335 1243C430 1285 520 1290 600 1288C700 1285 790 1250 852 1185C865 1235 900 1275 962 1315Z" fill="#fff"/></g></g>
<filter id="rough" x="-2%" y="-2%" width="104%" height="104%"><feTurbulence type="fractalNoise" baseFrequency="0.11" numOctaves="2" seed="5" result="t"/><feDisplacementMap in="SourceGraphic" in2="t" scale="9" xChannelSelector="R" yChannelSelector="G"/></filter>
<clipPath id="tclip"><path d="M822.6 1181.2C822.6 1178.1 824.4 1174.5 828.4 1172.0C832.4 1169.5 838.4 1168.5 846.8 1166.2C855.2 1163.9 867.9 1161.1 879.0 1158.2C890.1 1155.3 903.5 1152.3 913.5 1149.0C923.5 1145.7 931.1 1142.0 938.8 1138.6C946.5 1135.1 951.8 1131.5 959.5 1128.3C967.2 1125.0 975.2 1122.0 984.8 1119.1C994.4 1116.2 1005.9 1113.3 1017.0 1111.0C1028.1 1108.7 1040.0 1107.2 1051.5 1105.3C1063.0 1103.4 1074.5 1101.3 1086.0 1099.5C1097.5 1097.7 1109.8 1095.5 1120.5 1094.3C1131.2 1093.1 1140.8 1092.1 1150.4 1092.6C1160.0 1093.1 1168.8 1094.7 1178.0 1097.2C1187.2 1099.7 1197.2 1103.4 1205.6 1107.6C1214.0 1111.8 1222.1 1117.1 1228.6 1122.5C1235.1 1127.9 1240.3 1133.5 1244.7 1139.8C1249.1 1146.1 1252.8 1154.0 1255.0 1160.5C1257.2 1167.0 1258.2 1172.8 1258.0 1178.9C1257.8 1185.0 1256.5 1191.2 1253.9 1197.3C1251.3 1203.4 1247.4 1210.0 1242.4 1215.7C1237.4 1221.5 1230.9 1226.8 1224.0 1231.8C1217.1 1236.8 1209.4 1241.4 1201.0 1245.6C1192.6 1249.8 1183.0 1254.0 1173.4 1257.1C1163.8 1260.2 1154.2 1261.9 1143.5 1264.0C1132.8 1266.1 1120.5 1268.2 1109.0 1269.7C1097.5 1271.2 1084.1 1272.3 1074.5 1272.7C1064.9 1273.1 1059.2 1272.9 1051.5 1272.0C1043.8 1271.1 1036.2 1269.7 1028.5 1267.4C1020.8 1265.1 1012.8 1261.7 1005.5 1258.2C998.2 1254.8 991.3 1250.5 984.8 1246.7C978.3 1242.9 972.5 1238.8 966.4 1235.2C960.3 1231.6 954.1 1228.0 948.0 1224.9C941.9 1221.8 935.7 1219.1 929.6 1216.8C923.5 1214.5 917.7 1212.6 911.2 1211.1C904.7 1209.6 897.8 1208.8 890.5 1207.6C883.2 1206.4 875.2 1205.7 867.5 1204.2C859.8 1202.7 851.0 1200.7 844.5 1198.4C838.0 1196.1 832.0 1193.3 828.4 1190.4C824.8 1187.5 822.6 1184.3 822.6 1181.2Z"/></clipPath>
<path d="M822.6 1181.2C822.6 1178.1 824.4 1174.5 828.4 1172.0C832.4 1169.5 838.4 1168.5 846.8 1166.2C855.2 1163.9 867.9 1161.1 879.0 1158.2C890.1 1155.3 903.5 1152.3 913.5 1149.0C923.5 1145.7 931.1 1142.0 938.8 1138.6C946.5 1135.1 951.8 1131.5 959.5 1128.3C967.2 1125.0 975.2 1122.0 984.8 1119.1C994.4 1116.2 1005.9 1113.3 1017.0 1111.0C1028.1 1108.7 1040.0 1107.2 1051.5 1105.3C1063.0 1103.4 1074.5 1101.3 1086.0 1099.5C1097.5 1097.7 1109.8 1095.5 1120.5 1094.3C1131.2 1093.1 1140.8 1092.1 1150.4 1092.6C1160.0 1093.1 1168.8 1094.7 1178.0 1097.2C1187.2 1099.7 1197.2 1103.4 1205.6 1107.6C1214.0 1111.8 1222.1 1117.1 1228.6 1122.5C1235.1 1127.9 1240.3 1133.5 1244.7 1139.8C1249.1 1146.1 1252.8 1154.0 1255.0 1160.5C1257.2 1167.0 1258.2 1172.8 1258.0 1178.9C1257.8 1185.0 1256.5 1191.2 1253.9 1197.3C1251.3 1203.4 1247.4 1210.0 1242.4 1215.7C1237.4 1221.5 1230.9 1226.8 1224.0 1231.8C1217.1 1236.8 1209.4 1241.4 1201.0 1245.6C1192.6 1249.8 1183.0 1254.0 1173.4 1257.1C1163.8 1260.2 1154.2 1261.9 1143.5 1264.0C1132.8 1266.1 1120.5 1268.2 1109.0 1269.7C1097.5 1271.2 1084.1 1272.3 1074.5 1272.7C1064.9 1273.1 1059.2 1272.9 1051.5 1272.0C1043.8 1271.1 1036.2 1269.7 1028.5 1267.4C1020.8 1265.1 1012.8 1261.7 1005.5 1258.2C998.2 1254.8 991.3 1250.5 984.8 1246.7C978.3 1242.9 972.5 1238.8 966.4 1235.2C960.3 1231.6 954.1 1228.0 948.0 1224.9C941.9 1221.8 935.7 1219.1 929.6 1216.8C923.5 1214.5 917.7 1212.6 911.2 1211.1C904.7 1209.6 897.8 1208.8 890.5 1207.6C883.2 1206.4 875.2 1205.7 867.5 1204.2C859.8 1202.7 851.0 1200.7 844.5 1198.4C838.0 1196.1 832.0 1193.3 828.4 1190.4C824.8 1187.5 822.6 1184.3 822.6 1181.2Z" fill="#000" stroke="#000" stroke-width="0.8"/>
<g clip-path="url(#tclip)"><g filter="url(#rough)"><rect x="800" y="1070" width="480" height="225" fill="#111"/><g stroke-linecap="round" fill="none"><path d="M911 1106h0M885 1138h0M938 1086h0M879 1167h0M836 1110h0M839 1157h0M920 1204h0M908 1239h0M1022 1129h0M862 1202h0M992 1270h0M1091 1111h0M1077 1120h0M1093 1178h0M1019 1227h0M1034 1254h0M1119 1249h0M1166 1104h0M1221 1144h0M1216 1131h0M1219 1118h0M1233 1215h0M1230 1279h0" stroke="#3a3a3a" stroke-width="13"/><path d="M924 1119h0M929 1131h0M880 1104h0M878 1129h0M916 1141h0M863 1131h0M980 1144h0M849 1102h0M961 1162h0M836 1097h0M919 1132h0M971 1134h0M951 1184h0M862 1167h0M894 1188h0M969 1179h0M879 1209h0M983 1157h0M854 1195h0M905 1222h0M1032 1104h0M972 1248h0M932 1243h0M921 1242h0M922 1254h0M816 1194h0M827 1220h0M1023 1112h0M1055 1119h0M1097 1153h0M1016 1218h0M1074 1148h0M1020 1259h0M1026 1250h0M1083 1172h0M827 1253h0M1046 1158h0M1041 1241h0M1120 1100h0M1102 1221h0M1081 1233h0M1132 1123h0M1142 1128h0M1162 1143h0M1165 1196h0M1178 1185h0M1176 1129h0M1094 1271h0M1190 1184h0M1155 1174h0M1200 1156h0M1217 1172h0M1212 1154h0M1207 1109h0M1200 1085h0M1232 1172h0M1227 1257h0M1248 1131h0M1203 1279h0M1234 1109h0" stroke="#d9d9d9" stroke-width="13"/><path d="M935 1103h0M890 1119h0M923 1160h0M956 1100h0M967 1111h0M826 1132h0M1003 1124h0M847 1184h0M946 1237h0M978 1234h0M852 1216h0M894 1219h0M885 1237h0M953 1274h0M1033 1114h0M842 1252h0M1005 1258h0M1113 1156h0M878 1278h0M1078 1224h0M1063 1221h0M828 1280h0M1122 1131h0M1107 1163h0M1092 1168h0M1087 1223h0M1064 1265h0M1140 1236h0M1148 1159h0M1082 1261h0M1129 1266h0M1171 1113h0M1159 1254h0M1216 1276h0M1225 1271h0M1225 1166h0M1255 1141h0M1251 1160h0" stroke="#6a6a6a" stroke-width="9"/><path d="M929 1091h0M898 1153h0M912 1165h0M920 1088h0M946 1091h0M952 1163h0M922 1176h0M966 1123h0M862 1097h0M968 1100h0M823 1144h0M978 1106h0M865 1186h0M997 1088h0M856 1126h0M826 1163h0M941 1213h0M1001 1153h0M959 1246h0M917 1224h0M1008 1181h0M886 1216h0M1021 1179h0M999 1196h0M841 1203h0M1010 1191h0M995 1259h0M865 1255h0M1065 1127h0M816 1227h0M1091 1122h0M1102 1128h0M1061 1211h0M1091 1147h0M1149 1141h0M1118 1195h0M1077 1268h0M1068 1274h0M1108 1252h0M1167 1205h0M1107 1269h0M1159 1165h0M1168 1133h0M1207 1142h0M1175 1102h0M1200 1094h0M1204 1199h0M1185 1224h0M1244 1182h0M1223 1234h0M1244 1221h0M1248 1147h0M1264 1123h0M1249 1253h0M1262 1279h0" stroke="#d9d9d9" stroke-width="11"/><path d="M898 1085h0M862 1114h0M855 1145h0M886 1177h0M933 1186h0M816 1122h0M1007 1094h0M880 1192h0M819 1089h0M899 1207h0M1019 1147h0M922 1232h0M1072 1089h0M834 1211h0M1035 1188h0M897 1236h0M1055 1178h0M1069 1190h0M1045 1123h0M1025 1215h0M1074 1209h0M1062 1249h0M1089 1193h0M1161 1186h0M1125 1235h0M1133 1255h0M1171 1177h0M1189 1201h0M1186 1127h0M1171 1256h0M1186 1246h0M1195 1144h0M1200 1239h0M1197 1206h0M1209 1222h0M1265 1137h0M1256 1261h0" stroke="#a6a6a6" stroke-width="11"/><path d="M907 1115h0M911 1086h0M889 1086h0M915 1153h0M944 1148h0M959 1117h0M847 1117h0M897 1114h0M940 1132h0M854 1092h0M834 1137h0M953 1085h0M861 1157h0M929 1209h0M954 1217h0M868 1210h0M1021 1167h0M816 1185h0M954 1261h0M1045 1112h0M968 1264h0M862 1221h0M905 1273h0M1076 1137h0M1060 1148h0M841 1263h0M1029 1230h0M851 1243h0M1072 1165h0M1054 1278h0M1114 1185h0M1103 1212h0M1129 1244h0M1147 1220h0M1095 1261h0M1133 1279h0M1158 1241h0M1153 1261h0M935 1252h0M1168 1267h0M1187 1105h0M1220 1181h0M1211 1086h0M1228 1202h0M1241 1154h0M1264 1188h0M1237 1127h0" stroke="#d9d9d9" stroke-width="9"/><path d="M873 1114h0M887 1129h0M960 1138h0M1022 1090h0M929 1199h0M946 1251h0M985 1175h0M990 1200h0M961 1280h0M869 1242h0M1067 1138h0M1019 1269h0M1006 1202h0M816 1244h0M1156 1151h0M1176 1085h0M1169 1279h0M1198 1106h0M1196 1250h0M1216 1108h0M1240 1117h0M1246 1087h0M1211 1205h0M1246 1274h0" stroke="#3a3a3a" stroke-width="11"/><path d="M904 1143h0M925 1151h0M955 1147h0M883 1147h0M911 1181h0M945 1175h0M974 1160h0M839 1126h0M993 1122h0M995 1109h0M815 1140h0M934 1223h0M987 1190h0M975 1186h0M990 1167h0M996 1176h0M1011 1165h0M922 1271h0M962 1271h0M1077 1109h0M876 1232h0M1006 1219h0M834 1246h0M1049 1167h0M1012 1244h0M1024 1240h0M1123 1122h0M1096 1187h0M1050 1237h0M815 1275h0M1097 1201h0M1119 1214h0M1134 1184h0M1139 1200h0M1151 1185h0M1100 1279h0M1140 1212h0M1155 1105h0M1158 1230h0M1161 1085h0M1180 1233h0M1187 1266h0M1202 1134h0M1203 1215h0M1213 1264h0M1218 1220h0M1221 1154h0M1230 1182h0M1253 1097h0M1264 1107h0M1264 1146h0" stroke="#a6a6a6" stroke-width="9"/><path d="M934 1123h0M961 1091h0M976 1095h0M875 1159h0M826 1095h0M872 1173h0M998 1097h0M867 1123h0M997 1133h0M963 1191h0M842 1175h0M1012 1136h0M842 1193h0M981 1204h0M962 1256h0M843 1220h0M993 1243h0M1035 1173h0M1036 1160h0M1086 1098h0M1001 1273h0M992 1220h0M1057 1188h0M824 1237h0M1083 1129h0M1054 1155h0M1065 1230h0M1109 1096h0M1036 1278h0M1125 1162h0M1112 1207h0M1122 1187h0M1131 1209h0M1086 1277h0M1166 1120h0M1200 1186h0M1186 1147h0M1136 1086h0M1193 1278h0M1170 1145h0M1208 1255h0M1259 1177h0M1245 1234h0M1255 1272h0" stroke="#6a6a6a" stroke-width="11"/><path d="M888 1155h0M932 1159h0M871 1144h0M965 1146h0M944 1100h0M941 1190h0M900 1197h0M816 1101h0M966 1201h0M821 1174h0M957 1234h0M1004 1143h0M815 1112h0M1013 1154h0M999 1226h0M830 1202h0M860 1231h0M1030 1148h0M1044 1176h0M860 1245h0M880 1259h0M874 1266h0M816 1161h0M851 1259h0M1065 1171h0M1069 1156h0M835 1273h0M1106 1141h0M885 1250h0M1060 1163h0M1010 1277h0M1114 1126h0M1046 1273h0M1149 1118h0M1176 1273h0M1200 1176h0M1208 1234h0M1201 1268h0M1236 1190h0M1236 1163h0M1242 1170h0M1253 1185h0M1243 1107h0M1189 1237h0" stroke="#a6a6a6" stroke-width="13"/><path d="M913 1096h0M871 1102h0M950 1120h0M930 1111h0M863 1085h0M851 1133h0M987 1102h0M815 1151h0M931 1233h0M983 1261h0M875 1223h0M1053 1106h0M1061 1112h0M818 1203h0M1000 1212h0M883 1270h0M1043 1146h0M859 1263h0M914 1249h0M1099 1116h0M1031 1094h0M1042 1232h0M1024 1276h0M846 1280h0M1088 1214h0M1110 1117h0M1105 1182h0M1145 1097h0M1092 1233h0M1103 1234h0M1143 1109h0M1114 1238h0M1143 1254h0M1153 1092h0M1157 1123h0M1193 1168h0M1179 1141h0M1204 1166h0M1182 1118h0M1109 1280h0M1177 1242h0M1191 1095h0M1219 1210h0M1223 1102h0M1240 1244h0M1258 1251h0M1262 1214h0M1264 1267h0" stroke="#6a6a6a" stroke-width="13"/><path d="M926 1140h0M873 1184h0M833 1149h0M833 1185h0M1032 1137h0M991 1279h0M874 1250h0M1038 1200h0M1048 1200h0M1050 1214h0M1066 1181h0M1096 1100h0M867 1275h0M1107 1173h0M815 1218h0M1075 1178h0M1133 1193h0M1181 1197h0M1234 1095h0M1205 1246h0M1256 1221h0" stroke="#3a3a3a" stroke-width="9"/><path d="M932 1195h0M922 1173h0M952 1176h0M898 1217h0M926 1164h0M936 1233h0M906 1192h0M916 1250h0M966 1201h0M884 1258h0M879 1191h0M850 1223h0M970 1187h0M967 1223h0M962 1237h0M927 1137h0M886 1151h0M878 1246h0M980 1220h0M908 1275h0M841 1175h0M840 1223h0M849 1253h0M967 1248h0M834 1216h0M990 1230h0M896 1274h0M873 1128h0M850 1161h0M856 1118h0M947 1137h0M876 1099h0M992 1243h0M887 1098h0M975 1226h0M1014 1156h0M821 1214h0M939 1095h0M995 1186h0M833 1269h0M1026 1218h0M849 1277h0M944 1124h0M839 1259h0M998 1274h0M996 1148h0M816 1234h0M964 1123h0M957 1116h0M1034 1228h0M1026 1158h0M919 1089h0M993 1095h0M827 1136h0M1007 1279h0M1071 1184h0M1048 1176h0M1070 1160h0M1017 1112h0M993 1086h0M1010 1104h0M1035 1123h0M1046 1111h0M1063 1134h0M1095 1194h0M1113 1183h0M1043 1100h0M1065 1112h0M1118 1168h0M1037 1114h0M1045 1119h0M1072 1210h0M1102 1207h0M1097 1260h0M1093 1142h0M1123 1155h0M1106 1119h0M1136 1191h0M1128 1133h0M1151 1168h0M1153 1177h0M1143 1129h0M1124 1229h0M1123 1089h0M1108 1263h0M1110 1129h0M1145 1245h0M1119 1128h0M1125 1116h0M1161 1246h0M1186 1155h0M1158 1134h0M1181 1210h0M1199 1227h0M1182 1091h0M1171 1213h0M1180 1252h0M1199 1185h0M1171 1243h0M1194 1121h0M1205 1110h0M1178 1123h0M1195 1206h0M1202 1172h0M1216 1241h0M1209 1101h0M1230 1151h0M1210 1134h0M1227 1088h0M1221 1109h0M1231 1096h0M1233 1171h0M1203 1264h0M1231 1240h0M1246 1119h0M1240 1094h0M1249 1163h0M1243 1103h0M1232 1253h0M1251 1107h0M1227 1130h0M1261 1111h0M1261 1241h0M1261 1264h0" stroke="#f0f0f0" stroke-width="9.5"/><path d="M936 1214h0M934 1204h0M899 1207h0M911 1226h0M931 1176h0M895 1195h0M951 1220h0M889 1143h0M874 1216h0M944 1271h0M852 1213h0M954 1229h0M907 1218h0M886 1123h0M909 1123h0M939 1139h0M943 1150h0M889 1115h0M858 1176h0M855 1142h0M846 1149h0M969 1167h0M973 1160h0M864 1109h0M820 1164h0M885 1107h0M1016 1168h0M926 1099h0M908 1106h0M820 1172h0M853 1129h0M987 1147h0M834 1244h0M878 1089h0M845 1245h0M843 1100h0M1014 1214h0M820 1141h0M991 1252h0M1038 1185h0M1017 1276h0M824 1126h0M820 1102h0M946 1089h0M843 1090h0M824 1269h0M984 1109h0M820 1113h0M1018 1177h0M1044 1254h0M1040 1268h0M956 1093h0M828 1278h0M1026 1275h0M1023 1191h0M1052 1125h0M1052 1244h0M1042 1229h0M1060 1228h0M1056 1205h0M1017 1097h0M1072 1248h0M1091 1274h0M1071 1130h0M1082 1127h0M1035 1102h0M1066 1090h0M1116 1195h0M1126 1211h0M1093 1243h0M1092 1116h0M1140 1169h0M1088 1106h0M1098 1222h0M1115 1100h0M1103 1094h0M1161 1160h0M1134 1117h0M1134 1241h0M1177 1181h0M1131 1102h0M1146 1279h0M1158 1201h0M1163 1143h0M1185 1138h0M1167 1114h0M1162 1222h0M1173 1279h0M1177 1232h0M1216 1197h0M1213 1159h0M1210 1179h0M1204 1210h0M1218 1127h0M1219 1093h0M1229 1202h0M1249 1086h0M1233 1212h0M1231 1229h0M1264 1150h0M1239 1085h0M1261 1225h0M1236 1118h0M1256 1200h0M1264 1207h0M1239 1265h0M1231 1272h0M1258 1189h0M1226 1280h0M1251 1280h0" stroke="#f0f0f0" stroke-width="11"/><path d="M922 1191h0M933 1185h0M920 1205h0M911 1166h0M896 1178h0M945 1196h0M948 1186h0M925 1227h0M932 1242h0M886 1216h0M886 1185h0M935 1162h0M871 1174h0M903 1148h0M948 1166h0M907 1251h0M862 1192h0M921 1148h0M885 1235h0M861 1227h0M956 1162h0M879 1225h0M908 1242h0M847 1234h0M875 1234h0M963 1272h0M956 1244h0M852 1203h0M953 1269h0M885 1135h0M880 1270h0M983 1248h0M993 1198h0M838 1198h0M829 1172h0M975 1195h0M864 1123h0M1002 1222h0M843 1111h0M853 1106h0M995 1161h0M822 1200h0M905 1090h0M959 1131h0M890 1089h0M1026 1208h0M828 1222h0M819 1223h0M824 1241h0M829 1162h0M1022 1234h0M1001 1203h0M991 1136h0M1026 1182h0M949 1102h0M953 1123h0M854 1093h0M1029 1264h0M1053 1184h0M970 1107h0M1030 1144h0M818 1261h0M1035 1276h0M1047 1167h0M1031 1242h0M1056 1158h0M1009 1174h0M1083 1164h0M962 1086h0M1051 1213h0M1008 1088h0M815 1242h0M1052 1193h0M1020 1122h0M1069 1202h0M971 1088h0M1073 1235h0M1111 1149h0M1058 1101h0M1108 1200h0M1127 1144h0M1042 1091h0M1029 1118h0M1123 1181h0M1082 1138h0M1068 1099h0M1116 1214h0M1098 1134h0M1126 1192h0M1118 1264h0M1119 1241h0M1155 1145h0M1151 1125h0M1084 1092h0M1189 1164h0M1080 1251h0M1176 1194h0M1134 1232h0M1153 1094h0M1169 1252h0M1181 1107h0M1207 1149h0M1188 1128h0M1184 1099h0M1197 1102h0M1200 1240h0M1206 1191h0M1218 1206h0M1217 1171h0M1226 1162h0M1197 1195h0M1244 1150h0M1244 1188h0M1251 1140h0M1209 1233h0M1255 1119h0M1246 1202h0M1257 1212h0M1252 1231h0M1241 1275h0" stroke="#f0f0f0" stroke-width="12.5"/><path d="M916 1158h0M877 1156h0M971 1213h0M843 1210h0M898 1085h0M1000 1134h0M993 1123h0M1005 1112h0M993 1114h0M1066 1169h0M905 1115h0M1065 1218h0M1094 1168h0M1027 1106h0M1065 1240h0M1079 1111h0M1101 1188h0M1130 1172h0M1133 1202h0M1105 1108h0M1117 1137h0M1093 1092h0M1118 1256h0M1164 1171h0M1150 1137h0M1141 1091h0M1134 1126h0M1173 1134h0M1186 1116h0M1197 1151h0M1193 1254h0M1211 1252h0M1260 1102h0M1261 1088h0" stroke="#dcdcdc" stroke-width="9.5"/><path d="M930 1150h0M947 1280h0M992 1215h0M987 1156h0M1002 1101h0M1010 1135h0M1058 1251h0M1019 1086h0M1166 1181h0M1203 1278h0M1250 1265h0" stroke="#b4b4b4" stroke-width="11"/><path d="M909 1181h0M940 1173h0M873 1254h0M865 1213h0M942 1241h0M1168 1204h0M1165 1273h0M1200 1161h0M1195 1111h0M1262 1136h0M1227 1121h0M1223 1246h0" stroke="#b4b4b4" stroke-width="14"/><path d="M898 1169h0M1049 1146h0M1091 1228h0M1075 1280h0M1106 1252h0M1220 1230h0" stroke="#b4b4b4" stroke-width="9.5"/><path d="M927 1216h0M953 1199h0M888 1163h0M921 1243h0M895 1130h0M913 1139h0M902 1226h0M868 1149h0M985 1264h0M964 1145h0M835 1154h0M899 1122h0M940 1104h0M816 1121h0M1063 1190h0M1082 1260h0M1139 1151h0M1057 1088h0M1167 1099h0M1144 1118h0M1197 1090h0M1185 1271h0M1244 1245h0M1252 1249h0" stroke="#dcdcdc" stroke-width="14"/><path d="M862 1203h0M975 1278h0M1072 1259h0M1090 1252h0M1132 1218h0M1240 1159h0" stroke="#b4b4b4" stroke-width="12.5"/><path d="M899 1186h0M893 1266h0M854 1243h0M924 1255h0M1000 1176h0M988 1207h0M1031 1198h0M828 1192h0M1026 1168h0M972 1097h0M966 1136h0M1057 1170h0M1109 1163h0M1107 1218h0M1133 1089h0M1153 1114h0M1155 1239h0M1171 1264h0M1188 1183h0M1234 1107h0M1202 1253h0M1255 1155h0M1256 1130h0M1259 1175h0M1256 1272h0" stroke="#dcdcdc" stroke-width="12.5"/><path d="M957 1189h0M924 1181h0M945 1208h0M932 1253h0M903 1136h0M894 1235h0M849 1169h0M858 1154h0M930 1277h0M863 1133h0M840 1166h0M833 1182h0M868 1265h0M1005 1234h0M864 1252h0M867 1101h0M1042 1198h0M1019 1149h0M1070 1269h0M1082 1183h0M1080 1150h0M1091 1214h0M1072 1119h0M1111 1272h0M1141 1205h0M1147 1235h0M1167 1090h0M1182 1242h0M1214 1186h0M1227 1191h0M1248 1128h0M1220 1254h0M1265 1273h0" stroke="#dcdcdc" stroke-width="11"/><path d="M905 1159h0M904 1234h0M896 1246h0M872 1199h0M863 1162h0M921 1266h0M911 1265h0M898 1256h0M902 1267h0M896 1157h0M870 1226h0M865 1234h0M852 1193h0M939 1259h0M870 1189h0M898 1110h0M963 1259h0M962 1154h0M920 1276h0M923 1126h0M987 1166h0M825 1230h0M1010 1183h0M849 1267h0M838 1233h0M917 1110h0M843 1186h0M911 1097h0M977 1269h0M1000 1262h0M1006 1164h0M1018 1201h0M1013 1223h0M844 1123h0M1010 1206h0M836 1135h0M822 1155h0M829 1115h0M981 1125h0M816 1251h0M900 1101h0M1012 1244h0M1004 1254h0M864 1093h0M1022 1246h0M1001 1245h0M1033 1255h0M981 1101h0M1040 1217h0M1039 1176h0M925 1113h0M827 1089h0M933 1087h0M1039 1153h0M840 1277h0M994 1105h0M1040 1245h0M816 1277h0M1056 1264h0M1045 1133h0M1046 1238h0M1051 1226h0M1080 1172h0M1036 1134h0M985 1090h0M1064 1154h0M1059 1142h0M1078 1201h0M1071 1193h0M1055 1113h0M1072 1145h0M1106 1179h0M1032 1092h0M1086 1206h0M1081 1240h0M1102 1275h0M1106 1137h0M1063 1258h0M1077 1087h0M1138 1178h0M1104 1243h0M1127 1268h0M1147 1183h0M1114 1112h0M1171 1164h0M1155 1188h0M1120 1276h0M1118 1222h0M1110 1086h0M1133 1274h0M1176 1157h0M1140 1103h0M1159 1255h0M1122 1108h0M1143 1214h0M1143 1256h0M1151 1259h0M1141 1227h0M1150 1103h0M1203 1140h0M1221 1139h0M1198 1218h0M1194 1264h0M1200 1131h0M1151 1085h0M1205 1201h0M1206 1122h0M1226 1219h0M1194 1273h0M1236 1184h0M1237 1130h0M1218 1276h0M1239 1222h0M1213 1264h0M1226 1262h0M1215 1117h0M1237 1195h0M1251 1184h0" stroke="#f0f0f0" stroke-width="14"/><path d="M1085 1215h0M1103 1246h0M1114 1172h0M1126 1239h0M1032 1217h0M1164 1269h0M1139 1256h0M1200 1216h0M928 1243h0M881 1203h0M1224 1106h0M1239 1090h0M869 1125h0M829 1209h0M1260 1097h0M833 1219h0M868 1111h0M868 1086h0M820 1088h0" stroke="#3a3a3a" stroke-width="6"/><path d="M1095 1230h0M1092 1257h0M1094 1206h0M1050 1218h0M1126 1213h0M1129 1229h0M1143 1226h0M1038 1240h0M1072 1186h0M1091 1274h0M1110 1164h0M1039 1272h0M1021 1262h0M1035 1176h0M1035 1263h0M1008 1264h0M995 1276h0M1179 1269h0M1160 1259h0M1013 1252h0M1007 1217h0M1022 1154h0M1032 1138h0M1167 1173h0M983 1272h0M1176 1155h0M1145 1126h0M1204 1190h0M1227 1211h0M1159 1168h0M1166 1200h0M972 1209h0M1041 1114h0M1174 1140h0M1241 1205h0M1219 1274h0M1113 1121h0M984 1198h0M949 1231h0M1024 1107h0M939 1237h0M1220 1247h0M1251 1245h0M1257 1191h0M1252 1210h0M1260 1229h0M1170 1105h0M1223 1116h0M933 1210h0M1264 1182h0M1211 1149h0M920 1179h0M907 1180h0M882 1280h0M987 1104h0M972 1127h0M1232 1111h0M891 1206h0M885 1270h0M1213 1090h0M873 1274h0M898 1158h0M869 1265h0M955 1102h0M986 1092h0M1264 1132h0M935 1121h0M862 1206h0M1265 1105h0M914 1102h0M830 1276h0M861 1186h0M851 1269h0M859 1216h0M832 1160h0M844 1152h0M835 1246h0M888 1092h0M828 1111h0M819 1126h0M854 1111h0" stroke="#111111" stroke-width="3"/><path d="M1070 1275h0M1101 1154h0M1175 1225h0M1110 1146h0M1189 1263h0M1159 1152h0M1204 1201h0M1118 1136h0M1106 1131h0M1187 1166h0M1159 1098h0M913 1252h0M968 1118h0M967 1107h0M935 1096h0M947 1122h0M1248 1097h0M945 1100h0M861 1196h0M847 1211h0M827 1177h0" stroke="#6a6a6a" stroke-width="3"/><path d="M1136 1211h0M1139 1197h0M1167 1232h0M1150 1173h0M977 1259h0M1125 1115h0M961 1243h0M1039 1096h0M1234 1181h0M918 1189h0M945 1146h0M1246 1133h0M833 1255h0M822 1148h0M815 1196h0" stroke="#a0a0a0" stroke-width="4.5"/><path d="M1083 1242h0M1090 1180h0M1101 1269h0M1118 1267h0M1044 1165h0M1018 1216h0M1086 1112h0M1012 1176h0M1135 1123h0M971 1174h0M1182 1134h0M1235 1248h0M931 1183h0M948 1256h0M958 1170h0M1265 1212h0M999 1118h0M1191 1106h0M921 1199h0M871 1247h0M1224 1093h0M975 1100h0M832 1232h0M878 1107h0M819 1101h0" stroke="#3a3a3a" stroke-width="4.5"/><path d="M1104 1190h0M1092 1246h0M1022 1182h0M1000 1181h0M996 1172h0M1062 1088h0M1201 1151h0M993 1151h0M911 1242h0M1161 1087h0M925 1220h0M1209 1132h0M1252 1161h0M958 1125h0M1240 1122h0M881 1139h0M817 1237h0M816 1259h0" stroke="#3a3a3a" stroke-width="3"/><path d="M1104 1215h0M1108 1226h0M1109 1259h0M1111 1241h0M1057 1226h0M1059 1264h0M1105 1174h0M1151 1254h0M1156 1219h0M1150 1195h0M1124 1175h0M1050 1267h0M1030 1228h0M1159 1207h0M1062 1183h0M1063 1254h0M1150 1279h0M1083 1187h0M1166 1222h0M1063 1165h0M1135 1164h0M1052 1156h0M1133 1150h0M1011 1227h0M1001 1225h0M1036 1252h0M1010 1187h0M1193 1276h0M1189 1212h0M1123 1146h0M1091 1126h0M1049 1127h0M989 1221h0M987 1243h0M996 1236h0M1180 1186h0M969 1250h0M1177 1166h0M1061 1111h0M1022 1135h0M1183 1278h0M983 1175h0M1142 1116h0M995 1210h0M1209 1275h0M945 1265h0M1019 1116h0M1169 1184h0M1239 1219h0M1024 1145h0M1011 1122h0M1088 1091h0M975 1188h0M1098 1094h0M1184 1117h0M953 1203h0M1197 1125h0M1258 1174h0M1255 1221h0M1231 1165h0M926 1232h0M1132 1087h0M907 1260h0M956 1263h0M1212 1107h0M1232 1149h0M1257 1276h0M882 1233h0M966 1146h0M916 1233h0M904 1221h0M953 1152h0M902 1234h0M876 1255h0M957 1114h0M997 1095h0M890 1180h0M867 1237h0M854 1258h0M841 1269h0M926 1108h0M873 1163h0M1263 1088h0M918 1086h0M849 1170h0M853 1180h0M876 1091h0M823 1245h0M842 1223h0M819 1163h0M819 1186h0M816 1138h0M834 1170h0" stroke="#111111" stroke-width="4.5"/><path d="M1081 1266h0M1185 1225h0M1150 1244h0M1051 1107h0M957 1253h0M957 1219h0M910 1276h0M1231 1267h0M985 1115h0M1245 1279h0M1237 1237h0M922 1128h0M864 1171h0M839 1135h0M895 1099h0M840 1124h0" stroke="#a0a0a0" stroke-width="3"/><path d="M1080 1233h0M1136 1245h0M1125 1259h0M1094 1220h0M1051 1244h0M1094 1196h0M1131 1192h0M1142 1187h0M1153 1185h0M1134 1221h0M1100 1165h0M1039 1224h0M1057 1174h0M1147 1205h0M1023 1243h0M1003 1253h0M1044 1150h0M1127 1129h0M1074 1111h0M1214 1209h0M1026 1254h0M1007 1158h0M1032 1124h0M1209 1245h0M979 1217h0M1199 1173h0M1014 1148h0M1096 1114h0M962 1205h0M1007 1106h0M1198 1160h0M942 1275h0M1054 1093h0M1178 1177h0M1225 1237h0M1164 1136h0M950 1185h0M1245 1196h0M1246 1172h0M1193 1190h0M929 1262h0M937 1252h0M1190 1155h0M973 1163h0M1203 1102h0M948 1163h0M1193 1095h0M1225 1155h0M908 1198h0M1252 1266h0M1262 1156h0M896 1263h0M915 1212h0M961 1158h0M927 1158h0M899 1275h0M996 1109h0M944 1110h0M914 1222h0M894 1147h0M965 1098h0M1254 1122h0M944 1088h0M871 1197h0M901 1122h0M886 1116h0M849 1250h0M844 1258h0M843 1194h0M851 1199h0M818 1275h0M841 1176h0M822 1203h0M826 1137h0M858 1121h0M856 1099h0" stroke="#111111" stroke-width="6"/><path d="M1044 1258h0M1060 1280h0M993 1264h0M1075 1163h0M1020 1233h0M1183 1248h0M959 1274h0M1054 1118h0M1136 1107h0M1079 1095h0M1011 1132h0M1228 1196h0M1018 1098h0M1144 1093h0M1233 1098h0M1169 1094h0M908 1168h0M891 1230h0M826 1264h0M842 1162h0M830 1190h0M838 1086h0" stroke="#6a6a6a" stroke-width="4.5"/><path d="M1080 1276h0M1022 1206h0M1046 1183h0M1172 1277h0M1162 1191h0M1040 1133h0M1066 1137h0M1184 1146h0M1154 1129h0M1167 1114h0M1217 1171h0M989 1141h0M1216 1264h0M1207 1178h0M1246 1147h0M895 1168h0M880 1129h0M832 1099h0" stroke="#a0a0a0" stroke-width="6"/><path d="M1047 1232h0M1117 1212h0M1078 1206h0M1173 1214h0M1012 1274h0M1177 1236h0M1102 1122h0M1117 1094h0M937 1219h0M997 1132h0M966 1193h0M1104 1086h0M1251 1255h0M1262 1267h0M888 1106h0" stroke="#6a6a6a" stroke-width="6"/><path d="M1173 1232h0M1144 1238h0M1193 1226h0M1156 1274h0M1194 1245h0M1193 1173h0M1191 1211h0M1158 1237h0M1234 1229h0M1226 1244h0M1217 1194h0M1211 1245h0M1229 1261h0M1244 1241h0M1230 1190h0M1254 1261h0M1112 1207h0M1112 1234h0M1126 1278h0M1096 1171h0M1126 1251h0M1102 1277h0M1096 1222h0M1105 1183h0M1247 1176h0M1082 1279h0M1087 1259h0M1107 1134h0M1164 1161h0M1077 1204h0M1137 1161h0M1185 1162h0M1067 1248h0M1125 1153h0M1050 1235h0M1051 1257h0M1265 1159h0M1245 1141h0M1089 1187h0M1226 1132h0M1081 1217h0M1053 1205h0M1189 1115h0M1018 1232h0M1094 1120h0M1107 1111h0M1038 1205h0M999 1199h0M1059 1167h0M1054 1188h0M1173 1110h0M1068 1140h0M1026 1275h0M1248 1110h0M985 1223h0M990 1248h0M1200 1102h0M1212 1098h0M1024 1187h0M1087 1109h0M1115 1123h0M1158 1115h0M1086 1133h0M1100 1145h0M1182 1092h0M1065 1119h0M1019 1166h0M1004 1232h0M1004 1161h0M1010 1278h0M1057 1276h0M1081 1087h0M974 1183h0M1039 1117h0M991 1270h0M1192 1134h0M1024 1246h0M989 1160h0M1075 1098h0M954 1180h0M1171 1123h0M1234 1107h0M935 1212h0M1059 1087h0M991 1140h0M971 1231h0M1018 1091h0M908 1229h0M906 1202h0M906 1247h0M935 1093h0M975 1133h0M903 1168h0M917 1269h0M899 1216h0M898 1152h0M890 1201h0M907 1140h0M867 1256h0M885 1149h0M859 1227h0M891 1111h0M875 1228h0M850 1204h0M875 1110h0M865 1100h0M859 1116h0M845 1155h0M858 1189h0M820 1211h0M836 1126h0M834 1259h0M820 1234h0M847 1173h0M828 1185h0M873 1141h0M843 1088h0M820 1279h0M831 1100h0M833 1274h0M827 1170h0M821 1114h0M825 1086h0" stroke="#1c1c1c" stroke-width="2.2"/><path d="M1155 1256h0M1192 1258h0M1141 1260h0M1207 1212h0M1118 1262h0M1211 1261h0M1174 1280h0M1212 1230h0M1138 1220h0M1196 1194h0M1139 1274h0M1169 1193h0M1121 1190h0M1241 1256h0M1191 1150h0M1149 1183h0M1261 1237h0M1262 1216h0M1128 1238h0M1215 1180h0M1097 1205h0M1096 1235h0M1122 1177h0M1238 1210h0M1264 1253h0M1104 1262h0M1112 1248h0M1071 1229h0M1179 1135h0M1173 1149h0M1070 1271h0M1223 1156h0M1147 1130h0M1257 1132h0M1221 1109h0M1146 1150h0M1073 1156h0M1064 1197h0M1040 1169h0M1158 1172h0M1065 1214h0M1018 1266h0M1221 1087h0M1011 1246h0M1100 1099h0M1200 1087h0M988 1190h0M1057 1150h0M1247 1091h0M974 1244h0M971 1161h0M1028 1144h0M991 1210h0M1031 1127h0M1002 1148h0M1053 1107h0M1261 1099h0M967 1214h0M926 1278h0M956 1198h0M1149 1086h0M1030 1102h0M963 1129h0M944 1196h0M1045 1087h0M1007 1130h0M953 1252h0M958 1164h0M926 1181h0M933 1169h0M997 1108h0M984 1095h0M925 1158h0M935 1256h0M923 1228h0M934 1237h0M920 1197h0M967 1091h0M919 1255h0M885 1187h0M945 1118h0M899 1191h0M907 1118h0M889 1257h0M919 1128h0M895 1128h0M884 1241h0M891 1228h0M874 1211h0M898 1099h0M865 1242h0M873 1270h0M916 1169h0M867 1157h0M878 1092h0M859 1170h0M861 1211h0M849 1249h0M870 1179h0M852 1264h0M869 1199h0M839 1214h0M848 1142h0M825 1249h0M820 1262h0M826 1198h0M845 1106h0M851 1279h0M831 1153h0M821 1137h0M834 1140h0M816 1179h0M817 1100h0M850 1128h0" stroke="#1c1c1c" stroke-width="1.6"/></g></g>
<path d="M1150 1085 L1165 1100 C1190 1112 1222 1150 1231.5 1183.7 C1232.5 1205 1226 1225 1209 1240 L1200 1250 L1275 1265 L1275 1085Z" fill="#f8f8f8" filter="url(#rough)"/>
<path d="M1172 1104 C1195 1120 1222 1152 1230.5 1184 C1231.5 1205 1225 1224 1208 1240" fill="none" stroke="#151515" stroke-width="3.2" stroke-dasharray="14 5 22 4 9 6" filter="url(#rough)"/>
<clipPath id="tcR"><rect x="1228" y="1135" width="50" height="100"/></clipPath>
<clipPath id="tcA"><rect x="800" y="1080" width="400" height="210"/><rect x="800" y="1200" width="440" height="90"/></clipPath>
<clipPath id="tcB"><rect x="800" y="1080" width="372" height="210"/><rect x="800" y="1200" width="420" height="90"/></clipPath>
<clipPath id="tcC"><rect x="800" y="1080" width="345" height="210"/><rect x="800" y="1200" width="395" height="90"/></clipPath>
<clipPath id="tcD"><rect x="800" y="1188" width="310" height="100"/></clipPath>
<path d="M822.6 1181.2C822.6 1178.1 824.4 1174.5 828.4 1172.0C832.4 1169.5 838.4 1168.5 846.8 1166.2C855.2 1163.9 867.9 1161.1 879.0 1158.2C890.1 1155.3 903.5 1152.3 913.5 1149.0C923.5 1145.7 931.1 1142.0 938.8 1138.6C946.5 1135.1 951.8 1131.5 959.5 1128.3C967.2 1125.0 975.2 1122.0 984.8 1119.1C994.4 1116.2 1005.9 1113.3 1017.0 1111.0C1028.1 1108.7 1040.0 1107.2 1051.5 1105.3C1063.0 1103.4 1074.5 1101.3 1086.0 1099.5C1097.5 1097.7 1109.8 1095.5 1120.5 1094.3C1131.2 1093.1 1140.8 1092.1 1150.4 1092.6C1160.0 1093.1 1168.8 1094.7 1178.0 1097.2C1187.2 1099.7 1197.2 1103.4 1205.6 1107.6C1214.0 1111.8 1222.1 1117.1 1228.6 1122.5C1235.1 1127.9 1240.3 1133.5 1244.7 1139.8C1249.1 1146.1 1252.8 1154.0 1255.0 1160.5C1257.2 1167.0 1258.2 1172.8 1258.0 1178.9C1257.8 1185.0 1256.5 1191.2 1253.9 1197.3C1251.3 1203.4 1247.4 1210.0 1242.4 1215.7C1237.4 1221.5 1230.9 1226.8 1224.0 1231.8C1217.1 1236.8 1209.4 1241.4 1201.0 1245.6C1192.6 1249.8 1183.0 1254.0 1173.4 1257.1C1163.8 1260.2 1154.2 1261.9 1143.5 1264.0C1132.8 1266.1 1120.5 1268.2 1109.0 1269.7C1097.5 1271.2 1084.1 1272.3 1074.5 1272.7C1064.9 1273.1 1059.2 1272.9 1051.5 1272.0C1043.8 1271.1 1036.2 1269.7 1028.5 1267.4C1020.8 1265.1 1012.8 1261.7 1005.5 1258.2C998.2 1254.8 991.3 1250.5 984.8 1246.7C978.3 1242.9 972.5 1238.8 966.4 1235.2C960.3 1231.6 954.1 1228.0 948.0 1224.9C941.9 1221.8 935.7 1219.1 929.6 1216.8C923.5 1214.5 917.7 1212.6 911.2 1211.1C904.7 1209.6 897.8 1208.8 890.5 1207.6C883.2 1206.4 875.2 1205.7 867.5 1204.2C859.8 1202.7 851.0 1200.7 844.5 1198.4C838.0 1196.1 832.0 1193.3 828.4 1190.4C824.8 1187.5 822.6 1184.3 822.6 1181.2Z" fill="none" stroke="#000" stroke-width="5.4"/>
<path d="M822.6 1181.2C822.6 1178.1 824.4 1174.5 828.4 1172.0C832.4 1169.5 838.4 1168.5 846.8 1166.2C855.2 1163.9 867.9 1161.1 879.0 1158.2C890.1 1155.3 903.5 1152.3 913.5 1149.0C923.5 1145.7 931.1 1142.0 938.8 1138.6C946.5 1135.1 951.8 1131.5 959.5 1128.3C967.2 1125.0 975.2 1122.0 984.8 1119.1C994.4 1116.2 1005.9 1113.3 1017.0 1111.0C1028.1 1108.7 1040.0 1107.2 1051.5 1105.3C1063.0 1103.4 1074.5 1101.3 1086.0 1099.5C1097.5 1097.7 1109.8 1095.5 1120.5 1094.3C1131.2 1093.1 1140.8 1092.1 1150.4 1092.6C1160.0 1093.1 1168.8 1094.7 1178.0 1097.2C1187.2 1099.7 1197.2 1103.4 1205.6 1107.6C1214.0 1111.8 1222.1 1117.1 1228.6 1122.5C1235.1 1127.9 1240.3 1133.5 1244.7 1139.8C1249.1 1146.1 1252.8 1154.0 1255.0 1160.5C1257.2 1167.0 1258.2 1172.8 1258.0 1178.9C1257.8 1185.0 1256.5 1191.2 1253.9 1197.3C1251.3 1203.4 1247.4 1210.0 1242.4 1215.7C1237.4 1221.5 1230.9 1226.8 1224.0 1231.8C1217.1 1236.8 1209.4 1241.4 1201.0 1245.6C1192.6 1249.8 1183.0 1254.0 1173.4 1257.1C1163.8 1260.2 1154.2 1261.9 1143.5 1264.0C1132.8 1266.1 1120.5 1268.2 1109.0 1269.7C1097.5 1271.2 1084.1 1272.3 1074.5 1272.7C1064.9 1273.1 1059.2 1272.9 1051.5 1272.0C1043.8 1271.1 1036.2 1269.7 1028.5 1267.4C1020.8 1265.1 1012.8 1261.7 1005.5 1258.2C998.2 1254.8 991.3 1250.5 984.8 1246.7C978.3 1242.9 972.5 1238.8 966.4 1235.2C960.3 1231.6 954.1 1228.0 948.0 1224.9C941.9 1221.8 935.7 1219.1 929.6 1216.8C923.5 1214.5 917.7 1212.6 911.2 1211.1C904.7 1209.6 897.8 1208.8 890.5 1207.6C883.2 1206.4 875.2 1205.7 867.5 1204.2C859.8 1202.7 851.0 1200.7 844.5 1198.4C838.0 1196.1 832.0 1193.3 828.4 1190.4C824.8 1187.5 822.6 1184.3 822.6 1181.2Z" fill="none" stroke="#000" stroke-width="7.4" clip-path="url(#tcR)"/>
<path d="M822.6 1181.2C822.6 1178.1 824.4 1174.5 828.4 1172.0C832.4 1169.5 838.4 1168.5 846.8 1166.2C855.2 1163.9 867.9 1161.1 879.0 1158.2C890.1 1155.3 903.5 1152.3 913.5 1149.0C923.5 1145.7 931.1 1142.0 938.8 1138.6C946.5 1135.1 951.8 1131.5 959.5 1128.3C967.2 1125.0 975.2 1122.0 984.8 1119.1C994.4 1116.2 1005.9 1113.3 1017.0 1111.0C1028.1 1108.7 1040.0 1107.2 1051.5 1105.3C1063.0 1103.4 1074.5 1101.3 1086.0 1099.5C1097.5 1097.7 1109.8 1095.5 1120.5 1094.3C1131.2 1093.1 1140.8 1092.1 1150.4 1092.6C1160.0 1093.1 1168.8 1094.7 1178.0 1097.2C1187.2 1099.7 1197.2 1103.4 1205.6 1107.6C1214.0 1111.8 1222.1 1117.1 1228.6 1122.5C1235.1 1127.9 1240.3 1133.5 1244.7 1139.8C1249.1 1146.1 1252.8 1154.0 1255.0 1160.5C1257.2 1167.0 1258.2 1172.8 1258.0 1178.9C1257.8 1185.0 1256.5 1191.2 1253.9 1197.3C1251.3 1203.4 1247.4 1210.0 1242.4 1215.7C1237.4 1221.5 1230.9 1226.8 1224.0 1231.8C1217.1 1236.8 1209.4 1241.4 1201.0 1245.6C1192.6 1249.8 1183.0 1254.0 1173.4 1257.1C1163.8 1260.2 1154.2 1261.9 1143.5 1264.0C1132.8 1266.1 1120.5 1268.2 1109.0 1269.7C1097.5 1271.2 1084.1 1272.3 1074.5 1272.7C1064.9 1273.1 1059.2 1272.9 1051.5 1272.0C1043.8 1271.1 1036.2 1269.7 1028.5 1267.4C1020.8 1265.1 1012.8 1261.7 1005.5 1258.2C998.2 1254.8 991.3 1250.5 984.8 1246.7C978.3 1242.9 972.5 1238.8 966.4 1235.2C960.3 1231.6 954.1 1228.0 948.0 1224.9C941.9 1221.8 935.7 1219.1 929.6 1216.8C923.5 1214.5 917.7 1212.6 911.2 1211.1C904.7 1209.6 897.8 1208.8 890.5 1207.6C883.2 1206.4 875.2 1205.7 867.5 1204.2C859.8 1202.7 851.0 1200.7 844.5 1198.4C838.0 1196.1 832.0 1193.3 828.4 1190.4C824.8 1187.5 822.6 1184.3 822.6 1181.2Z" fill="none" stroke="#000" stroke-width="7" clip-path="url(#tcA)"/>
<path d="M822.6 1181.2C822.6 1178.1 824.4 1174.5 828.4 1172.0C832.4 1169.5 838.4 1168.5 846.8 1166.2C855.2 1163.9 867.9 1161.1 879.0 1158.2C890.1 1155.3 903.5 1152.3 913.5 1149.0C923.5 1145.7 931.1 1142.0 938.8 1138.6C946.5 1135.1 951.8 1131.5 959.5 1128.3C967.2 1125.0 975.2 1122.0 984.8 1119.1C994.4 1116.2 1005.9 1113.3 1017.0 1111.0C1028.1 1108.7 1040.0 1107.2 1051.5 1105.3C1063.0 1103.4 1074.5 1101.3 1086.0 1099.5C1097.5 1097.7 1109.8 1095.5 1120.5 1094.3C1131.2 1093.1 1140.8 1092.1 1150.4 1092.6C1160.0 1093.1 1168.8 1094.7 1178.0 1097.2C1187.2 1099.7 1197.2 1103.4 1205.6 1107.6C1214.0 1111.8 1222.1 1117.1 1228.6 1122.5C1235.1 1127.9 1240.3 1133.5 1244.7 1139.8C1249.1 1146.1 1252.8 1154.0 1255.0 1160.5C1257.2 1167.0 1258.2 1172.8 1258.0 1178.9C1257.8 1185.0 1256.5 1191.2 1253.9 1197.3C1251.3 1203.4 1247.4 1210.0 1242.4 1215.7C1237.4 1221.5 1230.9 1226.8 1224.0 1231.8C1217.1 1236.8 1209.4 1241.4 1201.0 1245.6C1192.6 1249.8 1183.0 1254.0 1173.4 1257.1C1163.8 1260.2 1154.2 1261.9 1143.5 1264.0C1132.8 1266.1 1120.5 1268.2 1109.0 1269.7C1097.5 1271.2 1084.1 1272.3 1074.5 1272.7C1064.9 1273.1 1059.2 1272.9 1051.5 1272.0C1043.8 1271.1 1036.2 1269.7 1028.5 1267.4C1020.8 1265.1 1012.8 1261.7 1005.5 1258.2C998.2 1254.8 991.3 1250.5 984.8 1246.7C978.3 1242.9 972.5 1238.8 966.4 1235.2C960.3 1231.6 954.1 1228.0 948.0 1224.9C941.9 1221.8 935.7 1219.1 929.6 1216.8C923.5 1214.5 917.7 1212.6 911.2 1211.1C904.7 1209.6 897.8 1208.8 890.5 1207.6C883.2 1206.4 875.2 1205.7 867.5 1204.2C859.8 1202.7 851.0 1200.7 844.5 1198.4C838.0 1196.1 832.0 1193.3 828.4 1190.4C824.8 1187.5 822.6 1184.3 822.6 1181.2Z" fill="none" stroke="#000" stroke-width="8.4" clip-path="url(#tcB)"/>
<path d="M822.6 1181.2C822.6 1178.1 824.4 1174.5 828.4 1172.0C832.4 1169.5 838.4 1168.5 846.8 1166.2C855.2 1163.9 867.9 1161.1 879.0 1158.2C890.1 1155.3 903.5 1152.3 913.5 1149.0C923.5 1145.7 931.1 1142.0 938.8 1138.6C946.5 1135.1 951.8 1131.5 959.5 1128.3C967.2 1125.0 975.2 1122.0 984.8 1119.1C994.4 1116.2 1005.9 1113.3 1017.0 1111.0C1028.1 1108.7 1040.0 1107.2 1051.5 1105.3C1063.0 1103.4 1074.5 1101.3 1086.0 1099.5C1097.5 1097.7 1109.8 1095.5 1120.5 1094.3C1131.2 1093.1 1140.8 1092.1 1150.4 1092.6C1160.0 1093.1 1168.8 1094.7 1178.0 1097.2C1187.2 1099.7 1197.2 1103.4 1205.6 1107.6C1214.0 1111.8 1222.1 1117.1 1228.6 1122.5C1235.1 1127.9 1240.3 1133.5 1244.7 1139.8C1249.1 1146.1 1252.8 1154.0 1255.0 1160.5C1257.2 1167.0 1258.2 1172.8 1258.0 1178.9C1257.8 1185.0 1256.5 1191.2 1253.9 1197.3C1251.3 1203.4 1247.4 1210.0 1242.4 1215.7C1237.4 1221.5 1230.9 1226.8 1224.0 1231.8C1217.1 1236.8 1209.4 1241.4 1201.0 1245.6C1192.6 1249.8 1183.0 1254.0 1173.4 1257.1C1163.8 1260.2 1154.2 1261.9 1143.5 1264.0C1132.8 1266.1 1120.5 1268.2 1109.0 1269.7C1097.5 1271.2 1084.1 1272.3 1074.5 1272.7C1064.9 1273.1 1059.2 1272.9 1051.5 1272.0C1043.8 1271.1 1036.2 1269.7 1028.5 1267.4C1020.8 1265.1 1012.8 1261.7 1005.5 1258.2C998.2 1254.8 991.3 1250.5 984.8 1246.7C978.3 1242.9 972.5 1238.8 966.4 1235.2C960.3 1231.6 954.1 1228.0 948.0 1224.9C941.9 1221.8 935.7 1219.1 929.6 1216.8C923.5 1214.5 917.7 1212.6 911.2 1211.1C904.7 1209.6 897.8 1208.8 890.5 1207.6C883.2 1206.4 875.2 1205.7 867.5 1204.2C859.8 1202.7 851.0 1200.7 844.5 1198.4C838.0 1196.1 832.0 1193.3 828.4 1190.4C824.8 1187.5 822.6 1184.3 822.6 1181.2Z" fill="none" stroke="#000" stroke-width="9.6" clip-path="url(#tcC)"/>
<path d="M822.6 1181.2C822.6 1178.1 824.4 1174.5 828.4 1172.0C832.4 1169.5 838.4 1168.5 846.8 1166.2C855.2 1163.9 867.9 1161.1 879.0 1158.2C890.1 1155.3 903.5 1152.3 913.5 1149.0C923.5 1145.7 931.1 1142.0 938.8 1138.6C946.5 1135.1 951.8 1131.5 959.5 1128.3C967.2 1125.0 975.2 1122.0 984.8 1119.1C994.4 1116.2 1005.9 1113.3 1017.0 1111.0C1028.1 1108.7 1040.0 1107.2 1051.5 1105.3C1063.0 1103.4 1074.5 1101.3 1086.0 1099.5C1097.5 1097.7 1109.8 1095.5 1120.5 1094.3C1131.2 1093.1 1140.8 1092.1 1150.4 1092.6C1160.0 1093.1 1168.8 1094.7 1178.0 1097.2C1187.2 1099.7 1197.2 1103.4 1205.6 1107.6C1214.0 1111.8 1222.1 1117.1 1228.6 1122.5C1235.1 1127.9 1240.3 1133.5 1244.7 1139.8C1249.1 1146.1 1252.8 1154.0 1255.0 1160.5C1257.2 1167.0 1258.2 1172.8 1258.0 1178.9C1257.8 1185.0 1256.5 1191.2 1253.9 1197.3C1251.3 1203.4 1247.4 1210.0 1242.4 1215.7C1237.4 1221.5 1230.9 1226.8 1224.0 1231.8C1217.1 1236.8 1209.4 1241.4 1201.0 1245.6C1192.6 1249.8 1183.0 1254.0 1173.4 1257.1C1163.8 1260.2 1154.2 1261.9 1143.5 1264.0C1132.8 1266.1 1120.5 1268.2 1109.0 1269.7C1097.5 1271.2 1084.1 1272.3 1074.5 1272.7C1064.9 1273.1 1059.2 1272.9 1051.5 1272.0C1043.8 1271.1 1036.2 1269.7 1028.5 1267.4C1020.8 1265.1 1012.8 1261.7 1005.5 1258.2C998.2 1254.8 991.3 1250.5 984.8 1246.7C978.3 1242.9 972.5 1238.8 966.4 1235.2C960.3 1231.6 954.1 1228.0 948.0 1224.9C941.9 1221.8 935.7 1219.1 929.6 1216.8C923.5 1214.5 917.7 1212.6 911.2 1211.1C904.7 1209.6 897.8 1208.8 890.5 1207.6C883.2 1206.4 875.2 1205.7 867.5 1204.2C859.8 1202.7 851.0 1200.7 844.5 1198.4C838.0 1196.1 832.0 1193.3 828.4 1190.4C824.8 1187.5 822.6 1184.3 822.6 1181.2Z" fill="none" stroke="#000" stroke-width="11.4" clip-path="url(#tcD)"/>
</g>
<ellipse cx="1107.8" cy="1157.8" rx="30" ry="31.7" fill="#f2f2f2" stroke="#000" stroke-width="6.8"/>
<circle cx="1104.0" cy="1150.0" r="2.2" fill="#222"/>
<circle cx="1114.0" cy="1144.0" r="2.0" fill="#222"/>
<circle cx="1098.0" cy="1160.0" r="1.6" fill="#222"/>
<circle cx="1110.0" cy="1166.0" r="1.8" fill="#222"/>
<circle cx="1120.0" cy="1158.0" r="1.4" fill="#222"/>
<circle cx="1102.0" cy="1172.0" r="1.3" fill="#222"/>
<circle cx="1093.0" cy="1150.0" r="1.2" fill="#222"/>
<circle cx="1112.0" cy="1178.0" r="1.2" fill="#222"/>
</svg>
</body></html>
